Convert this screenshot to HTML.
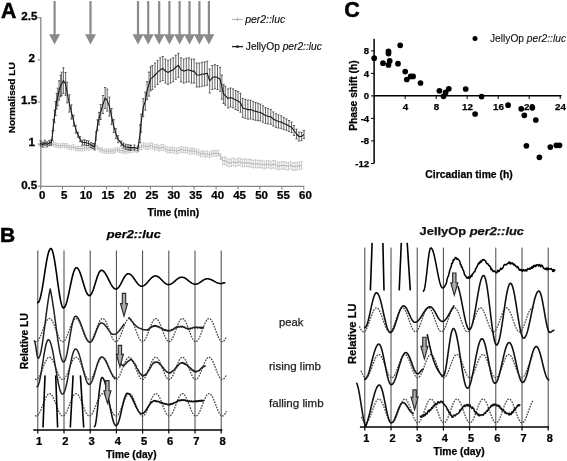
<!DOCTYPE html>
<html><head><meta charset="utf-8"><style>
html,body{margin:0;padding:0;background:#fff;width:567px;height:461px;overflow:hidden}
svg{display:block;filter:grayscale(1)}
text{font-family:"Liberation Sans",sans-serif}
</style></head><body>
<svg width="567" height="461" viewBox="0 0 567 461">
<rect width="567" height="461" fill="#fff"/>
<text x="0.9" y="17.8" font-size="21.2" font-weight="bold" font-style="normal" text-anchor="start" fill="#000" stroke="#000" stroke-width="0.5" >A</text>
<rect x="53.5" y="1.1" width="2.2" height="33.7" fill="#8a8a8a"/>
<path d="M49.1 34.3 L60.1 34.3 L54.6 44.5 Z" fill="#8a8a8a"/>
<rect x="89.4" y="1.1" width="2.2" height="33.7" fill="#8a8a8a"/>
<path d="M85 34.3 L96 34.3 L90.5 44.5 Z" fill="#8a8a8a"/>
<rect x="136.9" y="1.1" width="2.2" height="33.7" fill="#8a8a8a"/>
<path d="M132.5 34.3 L143.5 34.3 L138 44.5 Z" fill="#8a8a8a"/>
<rect x="147.1" y="1.1" width="2.2" height="33.7" fill="#8a8a8a"/>
<path d="M142.7 34.3 L153.7 34.3 L148.2 44.5 Z" fill="#8a8a8a"/>
<rect x="158.1" y="1.1" width="2.2" height="33.7" fill="#8a8a8a"/>
<path d="M153.7 34.3 L164.7 34.3 L159.2 44.5 Z" fill="#8a8a8a"/>
<rect x="168.3" y="1.1" width="2.2" height="33.7" fill="#8a8a8a"/>
<path d="M163.9 34.3 L174.9 34.3 L169.4 44.5 Z" fill="#8a8a8a"/>
<rect x="178.5" y="1.1" width="2.2" height="33.7" fill="#8a8a8a"/>
<path d="M174.1 34.3 L185.1 34.3 L179.6 44.5 Z" fill="#8a8a8a"/>
<rect x="188.4" y="1.1" width="2.2" height="33.7" fill="#8a8a8a"/>
<path d="M184 34.3 L195 34.3 L189.5 44.5 Z" fill="#8a8a8a"/>
<rect x="198.3" y="1.1" width="2.2" height="33.7" fill="#8a8a8a"/>
<path d="M193.9 34.3 L204.9 34.3 L199.4 44.5 Z" fill="#8a8a8a"/>
<rect x="207.8" y="1.1" width="2.2" height="33.7" fill="#8a8a8a"/>
<path d="M203.4 34.3 L214.4 34.3 L208.9 44.5 Z" fill="#8a8a8a"/>
<path d="M40.8 17 V186.4 H304.2" fill="none" stroke="#888" stroke-width="1.3"/>
<path d="M37.8 17.8 H40.6" stroke="#777" stroke-width="1"/>
<text transform="translate(29.4 20.1) scale(1.16 1)" font-size="10" font-weight="bold" font-style="normal" text-anchor="middle" fill="#000" stroke="#000" stroke-width="0.25" >2.5</text>
<path d="M37.8 59.9 H40.6" stroke="#777" stroke-width="1"/>
<text transform="translate(31.6 62.2) scale(1.16 1)" font-size="10" font-weight="bold" font-style="normal" text-anchor="middle" fill="#000" stroke="#000" stroke-width="0.25" >2</text>
<path d="M37.8 102 H40.6" stroke="#777" stroke-width="1"/>
<text transform="translate(29.1 104.3) scale(1.16 1)" font-size="10" font-weight="bold" font-style="normal" text-anchor="middle" fill="#000" stroke="#000" stroke-width="0.25" >1.5</text>
<path d="M37.8 144.1 H40.6" stroke="#777" stroke-width="1"/>
<text transform="translate(31.8 146.4) scale(1.16 1)" font-size="10" font-weight="bold" font-style="normal" text-anchor="middle" fill="#000" stroke="#000" stroke-width="0.25" >1</text>
<path d="M37.8 186.2 H40.6" stroke="#777" stroke-width="1"/>
<text transform="translate(29.2 188.5) scale(1.16 1)" font-size="10" font-weight="bold" font-style="normal" text-anchor="middle" fill="#000" stroke="#000" stroke-width="0.25" >0.5</text>
<path d="M40.6 186.3 V189.5" stroke="#777" stroke-width="1"/>
<text transform="translate(42.2 198.6) scale(1.15 1)" font-size="10" font-weight="bold" font-style="normal" text-anchor="middle" fill="#000" stroke="#000" stroke-width="0.25" >0</text>
<path d="M62.5 186.3 V189.5" stroke="#777" stroke-width="1"/>
<text transform="translate(64.1 198.6) scale(1.15 1)" font-size="10" font-weight="bold" font-style="normal" text-anchor="middle" fill="#000" stroke="#000" stroke-width="0.25" >5</text>
<path d="M84.5 186.3 V189.5" stroke="#777" stroke-width="1"/>
<text transform="translate(86.1 198.6) scale(1.15 1)" font-size="10" font-weight="bold" font-style="normal" text-anchor="middle" fill="#000" stroke="#000" stroke-width="0.25" >10</text>
<path d="M106.4 186.3 V189.5" stroke="#777" stroke-width="1"/>
<text transform="translate(108 198.6) scale(1.15 1)" font-size="10" font-weight="bold" font-style="normal" text-anchor="middle" fill="#000" stroke="#000" stroke-width="0.25" >15</text>
<path d="M128.3 186.3 V189.5" stroke="#777" stroke-width="1"/>
<text transform="translate(129.9 198.6) scale(1.15 1)" font-size="10" font-weight="bold" font-style="normal" text-anchor="middle" fill="#000" stroke="#000" stroke-width="0.25" >20</text>
<path d="M150.3 186.3 V189.5" stroke="#777" stroke-width="1"/>
<text transform="translate(151.9 198.6) scale(1.15 1)" font-size="10" font-weight="bold" font-style="normal" text-anchor="middle" fill="#000" stroke="#000" stroke-width="0.25" >25</text>
<path d="M172.2 186.3 V189.5" stroke="#777" stroke-width="1"/>
<text transform="translate(173.8 198.6) scale(1.15 1)" font-size="10" font-weight="bold" font-style="normal" text-anchor="middle" fill="#000" stroke="#000" stroke-width="0.25" >30</text>
<path d="M194.1 186.3 V189.5" stroke="#777" stroke-width="1"/>
<text transform="translate(195.7 198.6) scale(1.15 1)" font-size="10" font-weight="bold" font-style="normal" text-anchor="middle" fill="#000" stroke="#000" stroke-width="0.25" >35</text>
<path d="M216.1 186.3 V189.5" stroke="#777" stroke-width="1"/>
<text transform="translate(217.7 198.6) scale(1.15 1)" font-size="10" font-weight="bold" font-style="normal" text-anchor="middle" fill="#000" stroke="#000" stroke-width="0.25" >40</text>
<path d="M238 186.3 V189.5" stroke="#777" stroke-width="1"/>
<text transform="translate(239.6 198.6) scale(1.15 1)" font-size="10" font-weight="bold" font-style="normal" text-anchor="middle" fill="#000" stroke="#000" stroke-width="0.25" >45</text>
<path d="M259.9 186.3 V189.5" stroke="#777" stroke-width="1"/>
<text transform="translate(261.6 198.6) scale(1.15 1)" font-size="10" font-weight="bold" font-style="normal" text-anchor="middle" fill="#000" stroke="#000" stroke-width="0.25" >50</text>
<path d="M281.9 186.3 V189.5" stroke="#777" stroke-width="1"/>
<text transform="translate(283.5 198.6) scale(1.15 1)" font-size="10" font-weight="bold" font-style="normal" text-anchor="middle" fill="#000" stroke="#000" stroke-width="0.25" >55</text>
<path d="M303.8 186.3 V189.5" stroke="#777" stroke-width="1"/>
<text transform="translate(305.4 198.6) scale(1.15 1)" font-size="10" font-weight="bold" font-style="normal" text-anchor="middle" fill="#000" stroke="#000" stroke-width="0.25" >60</text>
<text x="147.6" y="216.3" font-size="10.3" font-weight="bold" font-style="normal" text-anchor="start" fill="#000" stroke="#000" stroke-width="0.25" textLength="51.5" lengthAdjust="spacingAndGlyphs" >Time (min)</text>
<text x="15.4" y="97.8" font-size="9.5" font-weight="bold" font-style="normal" text-anchor="middle" fill="#000" stroke="#000" stroke-width="0.25" textLength="71" lengthAdjust="spacingAndGlyphs" transform="rotate(-90 15.4 97.8)" >Normalised LU</text>
<path d="M232 19.4 H243" stroke="#aaa" stroke-width="1"/><path d="M237.5 17.5 V21.3" stroke="#aaa" stroke-width="0.8"/>
<text x="245.2" y="22.9" font-size="10.3" font-weight="normal" font-style="italic" text-anchor="start" fill="#111" stroke="#111" stroke-width="0.15" textLength="40" lengthAdjust="spacingAndGlyphs" >per2::luc</text>
<path d="M232 46.6 H243" stroke="#222" stroke-width="1.3"/><rect x="236.3" y="45.4" width="2.4" height="2.4" fill="#222"/>
<text x="245.8" y="49.8" font-size="10.3" font-weight="normal" font-style="normal" text-anchor="start" fill="#111" stroke="#111" stroke-width="0.15" textLength="76" lengthAdjust="spacingAndGlyphs" >JellyOp <tspan font-style="italic">per2::luc</tspan></text>
<path d="M40.6 141.2V145.6M39.6 141.2h2M39.6 145.6h2M42.8 141.9V146.3M41.8 141.9h2M41.8 146.3h2M45 143V147.4M44 143h2M44 147.4h2M47.2 141.8V146.2M46.2 141.8h2M46.2 146.2h2M49.4 141.4V145.8M48.4 141.4h2M48.4 145.8h2M51.6 141.5V145.9M50.6 141.5h2M50.6 145.9h2M53.8 141.8V146.2M52.8 141.8h2M52.8 146.2h2M56 142.9V147.3M55 142.9h2M55 147.3h2M58.1 143.3V147.7M57.1 143.3h2M57.1 147.7h2M60.3 143.9V148.3M59.3 143.9h2M59.3 148.3h2M62.5 143V147.4M61.5 143h2M61.5 147.4h2M64.7 143.6V148M63.7 143.6h2M63.7 148h2M66.9 143.6V148M65.9 143.6h2M65.9 148h2M69.1 145.1V149.5M68.1 145.1h2M68.1 149.5h2M71.3 145.4V149.8M70.3 145.4h2M70.3 149.8h2M73.5 144.6V149M72.5 144.6h2M72.5 149h2M75.7 146.2V150.6M74.7 146.2h2M74.7 150.6h2M77.9 146.4V150.8M76.9 146.4h2M76.9 150.8h2M80.1 146.4V150.8M79.1 146.4h2M79.1 150.8h2M82.3 146.5V150.9M81.3 146.5h2M81.3 150.9h2M84.5 145.9V150.3M83.5 145.9h2M83.5 150.3h2M86.7 145.6V150M85.7 145.6h2M85.7 150h2M88.9 146V150.4M87.9 146h2M87.9 150.4h2M91.1 144.9V149.3M90.1 144.9h2M90.1 149.3h2M93.2 144.6V149M92.2 144.6h2M92.2 149h2M95.4 144.2V148.6M94.4 144.2h2M94.4 148.6h2M97.6 145.5V149.9M96.6 145.5h2M96.6 149.9h2M99.8 147.4V151.8M98.8 147.4h2M98.8 151.8h2M102 147.8V152.2M101 147.8h2M101 152.2h2M104.2 148.9V153.3M103.2 148.9h2M103.2 153.3h2M106.4 148.7V153.1M105.4 148.7h2M105.4 153.1h2M108.6 149V153.4M107.6 149h2M107.6 153.4h2M110.8 148.9V153.3M109.8 148.9h2M109.8 153.3h2M113 148.9V153.3M112 148.9h2M112 153.3h2M115.2 148.2V152.6M114.2 148.2h2M114.2 152.6h2M117.4 147.4V151.8M116.4 147.4h2M116.4 151.8h2M119.6 148V152.4M118.6 148h2M118.6 152.4h2M121.8 148.5V152.9M120.8 148.5h2M120.8 152.9h2M124 148.8V153.2M123 148.8h2M123 153.2h2M126.1 148.9V153.3M125.1 148.9h2M125.1 153.3h2M128.3 148.6V153M127.3 148.6h2M127.3 153h2M130.5 148.2V152.6M129.5 148.2h2M129.5 152.6h2M132.7 148V152.4M131.7 148h2M131.7 152.4h2M134.9 147.5V151.9M133.9 147.5h2M133.9 151.9h2M137.1 148.3V152.7M136.1 148.3h2M136.1 152.7h2M139.3 145.4V149.8M138.3 145.4h2M138.3 149.8h2M141.5 144V149.6M140.5 144h2M140.5 149.6h2M143.7 142.5V148.1M142.7 142.5h2M142.7 148.1h2M145.9 143.7V149.3M144.9 143.7h2M144.9 149.3h2M148.1 143.8V149.4M147.1 143.8h2M147.1 149.4h2M150.3 142.7V148.3M149.3 142.7h2M149.3 148.3h2M152.5 143.3V148.9M151.5 143.3h2M151.5 148.9h2M154.7 144.7V150.3M153.7 144.7h2M153.7 150.3h2M156.9 144.3V149.9M155.9 144.3h2M155.9 149.9h2M159 145.5V151.1M158 145.5h2M158 151.1h2M161.2 144.8V150.4M160.2 144.8h2M160.2 150.4h2M163.4 144.5V150.1M162.4 144.5h2M162.4 150.1h2M165.6 146.1V151.7M164.6 146.1h2M164.6 151.7h2M167.8 147.2V152.8M166.8 147.2h2M166.8 152.8h2M170 147.3V152.9M169 147.3h2M169 152.9h2M172.2 147.1V152.7M171.2 147.1h2M171.2 152.7h2M174.4 147.6V153.2M173.4 147.6h2M173.4 153.2h2M176.6 148.3V153.9M175.6 148.3h2M175.6 153.9h2M178.8 147.6V153.2M177.8 147.6h2M177.8 153.2h2M181 146.6V152.2M180 146.6h2M180 152.2h2M183.2 147.2V152.8M182.2 147.2h2M182.2 152.8h2M185.4 147.3V152.9M184.4 147.3h2M184.4 152.9h2M187.6 147.4V153M186.6 147.4h2M186.6 153h2M189.8 148.7V154.3M188.8 148.7h2M188.8 154.3h2M192 147.9V153.5M191 147.9h2M191 153.5h2M194.1 148.7V154.3M193.1 148.7h2M193.1 154.3h2M196.3 149.1V154.7M195.3 149.1h2M195.3 154.7h2M198.5 149.7V155.3M197.5 149.7h2M197.5 155.3h2M200.7 151.2V156.8M199.7 151.2h2M199.7 156.8h2M202.9 150.5V156.1M201.9 150.5h2M201.9 156.1h2M205.1 151.6V157.2M204.1 151.6h2M204.1 157.2h2M207.3 151.1V156.7M206.3 151.1h2M206.3 156.7h2M209.5 151.9V157.5M208.5 151.9h2M208.5 157.5h2M211.7 150.9V156.5M210.7 150.9h2M210.7 156.5h2M213.9 150.4V156M212.9 150.4h2M212.9 156h2M216.1 150.8V156.4M215.1 150.8h2M215.1 156.4h2M218.3 150.3V155.9M217.3 150.3h2M217.3 155.9h2M220.5 153.8V159.4M219.5 153.8h2M219.5 159.4h2M222.7 156.9V164.5M221.7 156.9h2M221.7 164.5h2M224.9 156.9V164.5M223.9 156.9h2M223.9 164.5h2M227 158.2V165.8M226 158.2h2M226 165.8h2M229.2 159.1V166.7M228.2 159.1h2M228.2 166.7h2M231.4 158.9V166.5M230.4 158.9h2M230.4 166.5h2M233.6 158V165.6M232.6 158h2M232.6 165.6h2M235.8 159.3V166.9M234.8 159.3h2M234.8 166.9h2M238 158V165.6M237 158h2M237 165.6h2M240.2 158.2V165.8M239.2 158.2h2M239.2 165.8h2M242.4 159.3V166.9M241.4 159.3h2M241.4 166.9h2M244.6 158.9V166.5M243.6 158.9h2M243.6 166.5h2M246.8 159.2V166.8M245.8 159.2h2M245.8 166.8h2M249 159.2V166.8M248 159.2h2M248 166.8h2M251.2 159.6V167.2M250.2 159.6h2M250.2 167.2h2M253.4 160.4V168M252.4 160.4h2M252.4 168h2M255.6 159.8V167.4M254.6 159.8h2M254.6 167.4h2M257.8 160.4V168M256.8 160.4h2M256.8 168h2M259.9 160.1V167.7M258.9 160.1h2M258.9 167.7h2M262.1 160.4V168M261.1 160.4h2M261.1 168h2M264.3 161.2V168.8M263.3 161.2h2M263.3 168.8h2M266.5 160.4V168M265.5 160.4h2M265.5 168h2M268.7 160.4V168M267.7 160.4h2M267.7 168h2M270.9 161.3V168.9M269.9 161.3h2M269.9 168.9h2M273.1 160.5V168.1M272.1 160.5h2M272.1 168.1h2M275.3 160.7V168.3M274.3 160.7h2M274.3 168.3h2M277.5 162.1V169.7M276.5 162.1h2M276.5 169.7h2M279.7 162.1V169.7M278.7 162.1h2M278.7 169.7h2M281.9 161.5V169.1M280.9 161.5h2M280.9 169.1h2M284.1 161.6V169.2M283.1 161.6h2M283.1 169.2h2M286.3 162.2V169.8M285.3 162.2h2M285.3 169.8h2M288.5 162.4V170M287.5 162.4h2M287.5 170h2M290.7 161.4V169M289.7 161.4h2M289.7 169h2M292.9 162.7V170.3M291.9 162.7h2M291.9 170.3h2M295 162.7V170.3M294 162.7h2M294 170.3h2M297.2 162.3V169.9M296.2 162.3h2M296.2 169.9h2M299.4 162V169.6M298.4 162h2M298.4 169.6h2M301.6 161.5V169.1M300.6 161.5h2M300.6 169.1h2" stroke="#a8a8a8" stroke-width="0.6" fill="none"/>
<path d="M40.6 143.4 L42.8 144.1 L45 145.2 L47.2 144 L49.4 143.6 L51.6 143.7 L53.8 144 L56 145.1 L58.1 145.5 L60.3 146.1 L62.5 145.2 L64.7 145.8 L66.9 145.8 L69.1 147.3 L71.3 147.6 L73.5 146.8 L75.7 148.4 L77.9 148.6 L80.1 148.6 L82.3 148.7 L84.5 148.1 L86.7 147.8 L88.9 148.2 L91.1 147.1 L93.2 146.8 L95.4 146.4 L97.6 147.7 L99.8 149.6 L102 150 L104.2 151.1 L106.4 150.9 L108.6 151.2 L110.8 151.1 L113 151.1 L115.2 150.4 L117.4 149.6 L119.6 150.2 L121.8 150.7 L124 151 L126.1 151.1 L128.3 150.8 L130.5 150.4 L132.7 150.2 L134.9 149.7 L137.1 150.5 L139.3 147.6 L141.5 146.8 L143.7 145.3 L145.9 146.5 L148.1 146.6 L150.3 145.5 L152.5 146.1 L154.7 147.5 L156.9 147.1 L159 148.3 L161.2 147.6 L163.4 147.3 L165.6 148.9 L167.8 150 L170 150.1 L172.2 149.9 L174.4 150.4 L176.6 151.1 L178.8 150.4 L181 149.4 L183.2 150 L185.4 150.1 L187.6 150.2 L189.8 151.5 L192 150.7 L194.1 151.5 L196.3 151.9 L198.5 152.5 L200.7 154 L202.9 153.3 L205.1 154.4 L207.3 153.9 L209.5 154.7 L211.7 153.7 L213.9 153.2 L216.1 153.6 L218.3 153.1 L220.5 156.6 L222.7 160.7 L224.9 160.7 L227 162 L229.2 162.9 L231.4 162.7 L233.6 161.8 L235.8 163.1 L238 161.8 L240.2 162 L242.4 163.1 L244.6 162.7 L246.8 163 L249 163 L251.2 163.4 L253.4 164.2 L255.6 163.6 L257.8 164.2 L259.9 163.9 L262.1 164.2 L264.3 165 L266.5 164.2 L268.7 164.2 L270.9 165.1 L273.1 164.3 L275.3 164.5 L277.5 165.9 L279.7 165.9 L281.9 165.3 L284.1 165.4 L286.3 166 L288.5 166.2 L290.7 165.2 L292.9 166.5 L295 166.5 L297.2 166.1 L299.4 165.8 L301.6 165.3" fill="none" stroke="#ababab" stroke-width="0.9" stroke-linejoin="round" />
<path d="M40.6 140.8V145.8M39.5 140.8h2.2M39.5 145.8h2.2M42.8 142.3V147.3M41.7 142.3h2.2M41.7 147.3h2.2M44.9 140.2V145.2M43.8 140.2h2.2M43.8 145.2h2.2M47.1 141.9V146.9M46 141.9h2.2M46 146.9h2.2M49.3 140.4V145.4M48.2 140.4h2.2M48.2 145.4h2.2M51.3 139.9V144.9M50.2 139.9h2.2M50.2 144.9h2.2M52.4 131.2V140.6M51.3 131.2h2.2M51.3 140.6h2.2M53.4 119.7V130.5M52.3 119.7h2.2M52.3 130.5h2.2M54.5 110.2V122.7M53.4 110.2h2.2M53.4 122.7h2.2M55.6 101.4V115.6M54.5 101.4h2.2M54.5 115.6h2.2M56.7 93.3V109.1M55.6 93.3h2.2M55.6 109.1h2.2M57.8 88.2V105.6M56.7 88.2h2.2M56.7 105.6h2.2M59.1 80.7V100.1M58 80.7h2.2M58 100.1h2.2M60.6 75.2V96.8M59.5 75.2h2.2M59.5 96.8h2.2M61.7 72.2V95.6M60.6 72.2h2.2M60.6 95.6h2.2M63.4 67.7V93.5M62.3 67.7h2.2M62.3 93.5h2.2M65.6 72.5V95.3M64.5 72.5h2.2M64.5 95.3h2.2M67.1 82.2V102.8M66 82.2h2.2M66 102.8h2.2M69.3 94.8V112.1M68.2 94.8h2.2M68.2 112.1h2.2M71.4 104.9V119.1M70.3 104.9h2.2M70.3 119.1h2.2M73.6 115.3V126.1M72.5 115.3h2.2M72.5 126.1h2.2M75.8 125.6V133.2M74.7 125.6h2.2M74.7 133.2h2.2M78 132.3V137.3M76.9 132.3h2.2M76.9 137.3h2.2M80.1 136.7V141.7M79 136.7h2.2M79 141.7h2.2M82.3 140.3V145.3M81.2 140.3h2.2M81.2 145.3h2.2M84.5 139.8V144.8M83.4 139.8h2.2M83.4 144.8h2.2M86.5 140.5V145.5M85.4 140.5h2.2M85.4 145.5h2.2M88.5 140.8V145.8M87.4 140.8h2.2M87.4 145.8h2.2M91 142.5V147.5M89.9 142.5h2.2M89.9 147.5h2.2M93 143.5V148.5M91.9 143.5h2.2M91.9 148.5h2.2M94.7 143.4V150M93.6 143.4h2.2M93.6 150h2.2M96 131.7V140.1M94.9 131.7h2.2M94.9 140.1h2.2M97.5 119.8V130.4M96.4 119.8h2.2M96.4 130.4h2.2M99 112.3V124.9M97.9 112.3h2.2M97.9 124.9h2.2M100.7 104.5V119.5M99.6 104.5h2.2M99.6 119.5h2.2M102.9 95.5V113.5M101.8 95.5h2.2M101.8 113.5h2.2M105.1 87.5V108.5M104 87.5h2.2M104 108.5h2.2M107.2 89.1V111.1M106.1 89.1h2.2M106.1 111.1h2.2M109.4 97.1V116.1M108.3 97.1h2.2M108.3 116.1h2.2M111.6 108.4V124.4M110.5 108.4h2.2M110.5 124.4h2.2M113.7 119.6V132.6M112.6 119.6h2.2M112.6 132.6h2.2M115.9 128.7V138.7M114.8 128.7h2.2M114.8 138.7h2.2M118.1 135.7V142.7M117 135.7h2.2M117 142.7h2.2M121.3 141V146M120.2 141h2.2M120.2 146h2.2M123.5 143V148M122.4 143h2.2M122.4 148h2.2M125.7 144.2V149.2M124.6 144.2h2.2M124.6 149.2h2.2M128 144.7V149.7M126.9 144.7h2.2M126.9 149.7h2.2M130 145.3V150.3M128.9 145.3h2.2M128.9 150.3h2.2M131 145.1V150.1M129.9 145.1h2.2M129.9 150.1h2.2M134.4 145.1V150.1M133.3 145.1h2.2M133.3 150.1h2.2M137.9 146V151M136.8 146h2.2M136.8 151h2.2M140.1 124.7V142.7M139 124.7h2.2M139 142.7h2.2M141.1 114.3V132.3M140 114.3h2.2M140 132.3h2.2M143.2 98.6V116.6M142.1 98.6h2.2M142.1 116.6h2.2M145.3 92.1V110.1M144.2 92.1h2.2M144.2 110.1h2.2M147.1 81.7V99.7M146 81.7h2.2M146 99.7h2.2M149 72.1V96.1M147.9 72.1h2.2M147.9 96.1h2.2M150.5 66.9V90.9M149.4 66.9h2.2M149.4 90.9h2.2M152.3 65.6V89.6M151.2 65.6h2.2M151.2 89.6h2.2M155 63V87M153.9 63h2.2M153.9 87h2.2M157.6 60.4V84.4M156.5 60.4h2.2M156.5 84.4h2.2M160.2 57.8V81.8M159.1 57.8h2.2M159.1 81.8h2.2M162.8 56.5V80.5M161.7 56.5h2.2M161.7 80.5h2.2M165.4 59.1V83.1M164.3 59.1h2.2M164.3 83.1h2.2M168 60.4V84.4M166.9 60.4h2.2M166.9 84.4h2.2M170.6 59.1V83.1M169.5 59.1h2.2M169.5 83.1h2.2M173.2 57.8V81.8M172.1 57.8h2.2M172.1 81.8h2.2M175.8 55.2V79.2M174.7 55.2h2.2M174.7 79.2h2.2M178.4 53.3V77.3M177.3 53.3h2.2M177.3 77.3h2.2M181 57.8V81.8M179.9 57.8h2.2M179.9 81.8h2.2M183.7 59.1V83.1M182.6 59.1h2.2M182.6 83.1h2.2M186.3 58.3V82.3M185.2 58.3h2.2M185.2 82.3h2.2M188.9 57.8V81.8M187.8 57.8h2.2M187.8 81.8h2.2M191.5 59.1V83.1M190.4 59.1h2.2M190.4 83.1h2.2M194.1 59.1V83.1M193 59.1h2.2M193 83.1h2.2M196.7 63V87M195.6 63h2.2M195.6 87h2.2M199.3 63V87M198.2 63h2.2M198.2 87h2.2M202 62.3V86.3M200.9 62.3h2.2M200.9 86.3h2.2M204.6 61.9V85.9M203.5 61.9h2.2M203.5 85.9h2.2M207.2 61.2V85.2M206.1 61.2h2.2M206.1 85.2h2.2M209.7 69V93M208.6 69h2.2M208.6 93h2.2M212.3 65.5V89.5M211.2 65.5h2.2M211.2 89.5h2.2M214.9 64.7V88.7M213.8 64.7h2.2M213.8 88.7h2.2M217.5 65.5V89.5M216.4 65.5h2.2M216.4 89.5h2.2M220.1 67.3V91.3M219 67.3h2.2M219 91.3h2.2M221.9 75.1V99.1M220.8 75.1h2.2M220.8 99.1h2.2M223.6 84.5V103.5M222.5 84.5h2.2M222.5 103.5h2.2M225.3 86.2V105.2M224.2 86.2h2.2M224.2 105.2h2.2M228 88.9V107.9M226.9 88.9h2.2M226.9 107.9h2.2M230.5 88V107M229.4 88h2.2M229.4 107h2.2M233.1 88.9V107.9M232 88.9h2.2M232 107.9h2.2M235.7 90.6V109.6M234.6 90.6h2.2M234.6 109.6h2.2M238 91.5V110.5M236.9 91.5h2.2M236.9 110.5h2.2M240.5 93.2V112.2M239.4 93.2h2.2M239.4 112.2h2.2M242.7 98.4V117.4M241.6 98.4h2.2M241.6 117.4h2.2M245.3 99.3V118.3M244.2 99.3h2.2M244.2 118.3h2.2M247.9 100.1V119.1M246.8 100.1h2.2M246.8 119.1h2.2M250.5 100.2V119M249.4 100.2h2.2M249.4 119h2.2M253.1 101.3V119.7M252 101.3h2.2M252 119.7h2.2M255.6 102.5V120.3M254.5 102.5h2.2M254.5 120.3h2.2M258 103.3V120.7M256.9 103.3h2.2M256.9 120.7h2.2M260.4 104.1V120.9M259.3 104.1h2.2M259.3 120.9h2.2M263 105.8V122.2M261.9 105.8h2.2M261.9 122.2h2.2M265.5 107.6V123.4M264.4 107.6h2.2M264.4 123.4h2.2M268 108.5V123.9M266.9 108.5h2.2M266.9 123.9h2.2M270.8 109.5V124.3M269.7 109.5h2.2M269.7 124.3h2.2M273.3 111.9V126.1M272.2 111.9h2.2M272.2 126.1h2.2M276 113.6V127.4M274.9 113.6h2.2M274.9 127.4h2.2M278.5 114.9V128.1M277.4 114.9h2.2M277.4 128.1h2.2M281.2 115.8V128.4M280.1 115.8h2.2M280.1 128.4h2.2M283.8 117.4V129.6M282.7 117.4h2.2M282.7 129.6h2.2M286.4 118.8V130.4M285.3 118.8h2.2M285.3 130.4h2.2M289 120.5V131.5M287.9 120.5h2.2M287.9 131.5h2.2M291.6 122V132.6M290.5 122h2.2M290.5 132.6h2.2M294 125.5V135.5M292.9 125.5h2.2M292.9 135.5h2.2M296.5 129.2V138.8M295.4 129.2h2.2M295.4 138.8h2.2M299 132V141M297.9 132h2.2M297.9 141h2.2M301.6 132.2V140.6M300.5 132.2h2.2M300.5 140.6h2.2M304 130.5V138.5M302.9 130.5h2.2M302.9 138.5h2.2" stroke="#333" stroke-width="0.75" fill="none"/>
<path d="M40.6 143.3 L42.8 144.8 L44.9 142.7 L47.1 144.4 L49.3 142.9 L51.3 142.4 L52.4 135.9 L53.4 125.1 L54.5 116.4 L55.6 108.5 L56.7 101.2 L57.8 96.9 L59.1 90.4 L60.6 86 L61.7 83.9 L63.4 80.6 L65.6 83.9 L67.1 92.5 L69.3 103.4 L71.4 112 L73.6 120.7 L75.8 129.4 L78 134.8 L80.1 139.2 L82.3 142.8 L84.5 142.3 L86.5 143 L88.5 143.3 L91 145 L93 146 L94.7 146.7 L96 135.9 L97.5 125.1 L99 118.6 L100.7 112 L102.9 104.5 L105.1 98 L107.2 100.1 L109.4 106.6 L111.6 116.4 L113.7 126.1 L115.9 133.7 L118.1 139.2 L121.3 143.5 L123.5 145.5 L125.7 146.7 L128 147.2 L130 147.8 L131 147.6 L134.4 147.6 L137.9 148.5 L140.1 133.7 L141.1 123.3 L143.2 107.6 L145.3 101.1 L147.1 90.7 L149 84.1 L150.5 78.9 L152.3 77.6 L155 75 L157.6 72.4 L160.2 69.8 L162.8 68.5 L165.4 71.1 L168 72.4 L170.6 71.1 L173.2 69.8 L175.8 67.2 L178.4 65.3 L181 69.8 L183.7 71.1 L186.3 70.3 L188.9 69.8 L191.5 71.1 L194.1 71.1 L196.7 75 L199.3 75 L202 74.3 L204.6 73.9 L207.2 73.2 L209.7 81 L212.3 77.5 L214.9 76.7 L217.5 77.5 L220.1 79.3 L221.9 87.1 L223.6 94 L225.3 95.7 L228 98.4 L230.5 97.5 L233.1 98.4 L235.7 100.1 L238 101 L240.5 102.7 L242.7 107.9 L245.3 108.8 L247.9 109.6 L250.5 109.6 L253.1 110.5 L255.6 111.4 L258 112 L260.4 112.5 L263 114 L265.5 115.5 L268 116.2 L270.8 116.9 L273.3 119 L276 120.5 L278.5 121.5 L281.2 122.1 L283.8 123.5 L286.4 124.6 L289 126 L291.6 127.3 L294 130.5 L296.5 134 L299 136.5 L301.6 136.4 L304 134.5" fill="none" stroke="#1a1a1a" stroke-width="1.1" stroke-linejoin="round" />
<text x="344.3" y="17.3" font-size="21.5" font-weight="bold" font-style="normal" text-anchor="start" fill="#000" stroke="#000" stroke-width="0.5" >C</text>
<path d="M374.1 38.7 V163.5" stroke="#000" stroke-width="1.5"/>
<path d="M374 95.8 H561.5" stroke="#000" stroke-width="1.5"/>
<path d="M371 50.9 H374" stroke="#000" stroke-width="1"/>
<text x="369.2" y="54.1" font-size="9.6" font-weight="bold" font-style="normal" text-anchor="end" fill="#000" stroke="#000" stroke-width="0.25" >8</text>
<path d="M371 73.4 H374" stroke="#000" stroke-width="1"/>
<text x="369.2" y="76.6" font-size="9.6" font-weight="bold" font-style="normal" text-anchor="end" fill="#000" stroke="#000" stroke-width="0.25" >4</text>
<path d="M371 95.9 H374" stroke="#000" stroke-width="1"/>
<text x="369.2" y="99.1" font-size="9.6" font-weight="bold" font-style="normal" text-anchor="end" fill="#000" stroke="#000" stroke-width="0.25" >0</text>
<path d="M371 118.4 H374" stroke="#000" stroke-width="1"/>
<text x="369.2" y="121.6" font-size="9.6" font-weight="bold" font-style="normal" text-anchor="end" fill="#000" stroke="#000" stroke-width="0.25" >-4</text>
<path d="M371 140.9 H374" stroke="#000" stroke-width="1"/>
<text x="369.2" y="144.1" font-size="9.6" font-weight="bold" font-style="normal" text-anchor="end" fill="#000" stroke="#000" stroke-width="0.25" >-8</text>
<path d="M371 163.5 H374" stroke="#000" stroke-width="1"/>
<text x="369.2" y="166.7" font-size="9.6" font-weight="bold" font-style="normal" text-anchor="end" fill="#000" stroke="#000" stroke-width="0.25" >-12</text>
<path d="M405.2 95.9 V99" stroke="#000" stroke-width="1"/>
<text x="405.4" y="110.3" font-size="9.8" font-weight="bold" font-style="normal" text-anchor="middle" fill="#000" stroke="#000" stroke-width="0.25" >4</text>
<path d="M436.2 95.9 V99" stroke="#000" stroke-width="1"/>
<text x="436.4" y="110.3" font-size="9.8" font-weight="bold" font-style="normal" text-anchor="middle" fill="#000" stroke="#000" stroke-width="0.25" >8</text>
<path d="M467.2 95.9 V99" stroke="#000" stroke-width="1"/>
<text x="467.4" y="110.3" font-size="9.8" font-weight="bold" font-style="normal" text-anchor="middle" fill="#000" stroke="#000" stroke-width="0.25" >12</text>
<path d="M498.2 95.9 V99" stroke="#000" stroke-width="1"/>
<text x="498.4" y="110.3" font-size="9.8" font-weight="bold" font-style="normal" text-anchor="middle" fill="#000" stroke="#000" stroke-width="0.25" >16</text>
<path d="M529.2 95.9 V99" stroke="#000" stroke-width="1"/>
<text x="529.4" y="110.3" font-size="9.8" font-weight="bold" font-style="normal" text-anchor="middle" fill="#000" stroke="#000" stroke-width="0.25" >20</text>
<path d="M560.2 95.9 V99" stroke="#000" stroke-width="1"/>
<text x="560.4" y="110.3" font-size="9.8" font-weight="bold" font-style="normal" text-anchor="middle" fill="#000" stroke="#000" stroke-width="0.25" >24</text>
<text x="425.3" y="177.9" font-size="10.2" font-weight="bold" font-style="normal" text-anchor="start" fill="#000" stroke="#000" stroke-width="0.25" textLength="87.4" lengthAdjust="spacingAndGlyphs" >Circadian time (h)</text>
<text x="356.8" y="95.6" font-size="10" font-weight="bold" font-style="normal" text-anchor="middle" fill="#000" stroke="#000" stroke-width="0.25" textLength="70.5" lengthAdjust="spacingAndGlyphs" transform="rotate(-90 356.8 95.6)" >Phase shift (h)</text>
<circle cx="475" cy="38.5" r="2.5" fill="#000"/>
<text x="490" y="42" font-size="10.6" font-weight="normal" font-style="normal" text-anchor="start" fill="#111" stroke="#111" stroke-width="0.1" textLength="76" lengthAdjust="spacingAndGlyphs" >JellyOp <tspan font-style="italic">per2::luc</tspan></text>
<circle cx="374.2" cy="58.2" r="2.85" fill="#000"/>
<circle cx="383" cy="63.2" r="2.85" fill="#000"/>
<circle cx="388.5" cy="51.3" r="2.85" fill="#000"/>
<circle cx="388.5" cy="53.6" r="2.85" fill="#000"/>
<circle cx="389.7" cy="60.9" r="2.85" fill="#000"/>
<circle cx="388.5" cy="64.9" r="2.85" fill="#000"/>
<circle cx="400.2" cy="45.3" r="2.85" fill="#000"/>
<circle cx="398" cy="63.7" r="2.85" fill="#000"/>
<circle cx="405.2" cy="71.6" r="2.85" fill="#000"/>
<circle cx="406.8" cy="79.5" r="2.85" fill="#000"/>
<circle cx="410.7" cy="76.4" r="2.85" fill="#000"/>
<circle cx="413.1" cy="76.4" r="2.85" fill="#000"/>
<circle cx="420.5" cy="83" r="2.85" fill="#000"/>
<circle cx="439.4" cy="90.8" r="2.85" fill="#000"/>
<circle cx="443.5" cy="96.3" r="2.85" fill="#000"/>
<circle cx="445.6" cy="92.4" r="2.85" fill="#000"/>
<circle cx="448.8" cy="88.8" r="2.85" fill="#000"/>
<circle cx="465.7" cy="89" r="2.85" fill="#000"/>
<circle cx="475.1" cy="114" r="2.85" fill="#000"/>
<circle cx="481.6" cy="96.6" r="2.85" fill="#000"/>
<circle cx="508.1" cy="105.2" r="2.85" fill="#000"/>
<circle cx="521.2" cy="108.8" r="2.85" fill="#000"/>
<circle cx="524.3" cy="115.3" r="2.85" fill="#000"/>
<circle cx="532.4" cy="107.8" r="2.85" fill="#000"/>
<circle cx="535.8" cy="120" r="2.85" fill="#000"/>
<circle cx="526.4" cy="145.8" r="2.85" fill="#000"/>
<circle cx="539.4" cy="157.3" r="2.85" fill="#000"/>
<circle cx="550.3" cy="147.1" r="2.85" fill="#000"/>
<circle cx="556.3" cy="145.3" r="2.85" fill="#000"/>
<circle cx="559.5" cy="145.3" r="2.85" fill="#000"/>
<defs><linearGradient id="ag" x1="0" x2="1" y1="0" y2="0"><stop offset="0" stop-color="#7a7a7a"/><stop offset="0.5" stop-color="#b4b4b4"/><stop offset="1" stop-color="#7a7a7a"/></linearGradient></defs>
<text x="-0.1" y="242.1" font-size="21" font-weight="bold" font-style="normal" text-anchor="start" fill="#000" stroke="#000" stroke-width="0.5">B</text>
<text x="106.8" y="238" font-size="11.3" font-weight="bold" font-style="italic" text-anchor="start" fill="#000" stroke="#000" stroke-width="0.25" textLength="54" lengthAdjust="spacingAndGlyphs">per2::luc</text>
<path d="M37.8 250.5V430M64 250.5V430M90.2 250.5V430M116.4 250.5V430M142.6 250.5V430M168.8 250.5V430M195 250.5V430M221.2 250.5V430" stroke="#434343" stroke-width="1"/>
<path d="M33.2 430 H222.3" stroke="#000" stroke-width="1.4"/>
<path d="M37.8 430V433.6M64 430V433.6M90.2 430V433.6M116.4 430V433.6M142.6 430V433.6M168.8 430V433.6M195 430V433.6M221.2 430V433.6" stroke="#000" stroke-width="1.2"/>
<text transform="translate(39.2 444.8) scale(1.1 1)" font-size="10.2" font-weight="bold" font-style="normal" text-anchor="middle" fill="#000" stroke="#000" stroke-width="0.25">1</text>
<text transform="translate(65.4 444.8) scale(1.1 1)" font-size="10.2" font-weight="bold" font-style="normal" text-anchor="middle" fill="#000" stroke="#000" stroke-width="0.25">2</text>
<text transform="translate(91.6 444.8) scale(1.1 1)" font-size="10.2" font-weight="bold" font-style="normal" text-anchor="middle" fill="#000" stroke="#000" stroke-width="0.25">3</text>
<text transform="translate(117.8 444.8) scale(1.1 1)" font-size="10.2" font-weight="bold" font-style="normal" text-anchor="middle" fill="#000" stroke="#000" stroke-width="0.25">4</text>
<text transform="translate(144 444.8) scale(1.1 1)" font-size="10.2" font-weight="bold" font-style="normal" text-anchor="middle" fill="#000" stroke="#000" stroke-width="0.25">5</text>
<text transform="translate(170.2 444.8) scale(1.1 1)" font-size="10.2" font-weight="bold" font-style="normal" text-anchor="middle" fill="#000" stroke="#000" stroke-width="0.25">6</text>
<text transform="translate(196.4 444.8) scale(1.1 1)" font-size="10.2" font-weight="bold" font-style="normal" text-anchor="middle" fill="#000" stroke="#000" stroke-width="0.25">7</text>
<text transform="translate(222.6 444.8) scale(1.1 1)" font-size="10.2" font-weight="bold" font-style="normal" text-anchor="middle" fill="#000" stroke="#000" stroke-width="0.25">8</text>
<text x="106.1" y="457.6" font-size="10" font-weight="bold" font-style="normal" text-anchor="start" fill="#000" stroke="#000" stroke-width="0.25" textLength="50.5" lengthAdjust="spacingAndGlyphs">Time (day)</text>
<text x="27.9" y="341.2" font-size="10" font-weight="bold" font-style="normal" text-anchor="middle" fill="#000" stroke="#000" stroke-width="0.25" textLength="56" lengthAdjust="spacingAndGlyphs" transform="rotate(-90 27.9 341.2)">Relative LU</text>
<text x="278.9" y="326" font-size="11" font-weight="normal" font-style="normal" text-anchor="start" fill="#222" stroke="#222" stroke-width="0.25" textLength="24.4" lengthAdjust="spacingAndGlyphs">peak</text>
<text x="269" y="369.7" font-size="11" font-weight="normal" font-style="normal" text-anchor="start" fill="#222" stroke="#222" stroke-width="0.25" textLength="52" lengthAdjust="spacingAndGlyphs">rising limb</text>
<text x="269" y="407.2" font-size="11" font-weight="normal" font-style="normal" text-anchor="start" fill="#222" stroke="#222" stroke-width="0.25" textLength="54.6" lengthAdjust="spacingAndGlyphs">falling limb</text>
<path d="M35 341.31 L35.5 341.58 L36 341.7 L36.5 341.65 L37 341.44 L37.5 341.07 L38 340.55 L38.5 339.89 L39 339.08 L39.5 338.16 L40 337.12 L40.5 335.98 L41 334.76 L41.5 333.48 L42 332.14 L42.5 330.78 L43 329.42 L43.5 328.06 L44 326.72 L44.5 325.44 L45 324.22 L45.5 323.08 L46 322.04 L46.5 321.12 L47 320.31 L47.5 319.65 L48 319.13 L48.5 318.76 L49 318.55 L49.5 318.5 L50 318.62 L50.5 318.89 L51 319.32 L51.5 319.9 L52 320.62 L52.5 321.47 L53 322.45 L53.5 323.53 L54 324.7 L54.5 325.95 L55 327.25 L55.5 328.6 L56 329.96 L56.5 331.33 L57 332.68 L57.5 334 L58 335.26 L58.5 336.44 L59 337.54 L59.5 338.54 L60 339.42 L60.5 340.17 L61 340.78 L61.5 341.24 L62 341.54 L62.5 341.69 L63 341.67 L63.5 341.49 L64 341.16 L64.5 340.67 L65 340.03 L65.5 339.25 L66 338.35 L66.5 337.33 L67 336.21 L67.5 335.01 L68 333.74 L68.5 332.41 L69 331.06 L69.5 329.69 L70 328.33 L70.5 326.99 L71 325.69 L71.5 324.46 L72 323.3 L72.5 322.24 L73 321.29 L73.5 320.46 L74 319.77 L74.5 319.22 L75 318.82 L75.5 318.58 L76 318.5 L76.5 318.58 L77 318.82 L77.5 319.22 L78 319.77 L78.5 320.46 L79 321.29 L79.5 322.24 L80 323.3 L80.5 324.46 L81 325.69 L81.5 326.99 L82 328.33 L82.5 329.69 L83 331.06 L83.5 332.41 L84 333.74 L84.5 335.01 L85 336.21 L85.5 337.33 L86 338.35 L86.5 339.25 L87 340.03 L87.5 340.67 L88 341.16 L88.5 341.49 L89 341.67 L89.5 341.69 L90 341.54 L90.5 341.24 L91 340.78 L91.5 340.17 L92 339.42 L92.5 338.54 L93 337.54 L93.5 336.44 L94 335.26 L94.5 334 L95 332.68 L95.5 331.33 L96 329.96 L96.5 328.6 L97 327.25 L97.5 325.95 L98 324.7 L98.5 323.53 L99 322.45 L99.5 321.47 L100 320.62 L100.5 319.9 L101 319.32 L101.5 318.89 L102 318.62 L102.5 318.5 L103 318.55 L103.5 318.76 L104 319.13 L104.5 319.65 L105 320.31 L105.5 321.12 L106 322.04 L106.5 323.08 L107 324.22 L107.5 325.44 L108 326.72 L108.5 328.06 L109 329.42 L109.5 330.78 L110 332.14 L110.5 333.48 L111 334.76 L111.5 335.98 L112 337.12 L112.5 338.16 L113 339.08 L113.5 339.89 L114 340.55 L114.5 341.07 L115 341.44 L115.5 341.65 L116 341.7 L116.5 341.58 L117 341.31 L117.5 340.88 L118 340.3 L118.5 339.58 L119 338.73 L119.5 337.75 L120 336.67 L120.5 335.5 L121 334.25 L121.5 332.95 L122 331.6 L122.5 330.24 L123 328.87 L123.5 327.52 L124 326.2 L124.5 324.94 L125 323.76 L125.5 322.66 L126 321.66 L126.5 320.78 L127 320.03 L127.5 319.42 L128 318.96 L128.5 318.66 L129 318.51 L129.5 318.53 L130 318.71 L130.5 319.04 L131 319.53 L131.5 320.17 L132 320.95 L132.5 321.85 L133 322.87 L133.5 323.99 L134 325.19 L134.5 326.46 L135 327.79 L135.5 329.14 L136 330.51 L136.5 331.87 L137 333.21 L137.5 334.51 L138 335.74 L138.5 336.9 L139 337.96 L139.5 338.91 L140 339.74 L140.5 340.43 L141 340.98 L141.5 341.38 L142 341.62 L142.5 341.7 L143 341.62 L143.5 341.38 L144 340.98 L144.5 340.43 L145 339.74 L145.5 338.91 L146 337.96 L146.5 336.9 L147 335.74 L147.5 334.51 L148 333.21 L148.5 331.87 L149 330.51 L149.5 329.14 L150 327.79 L150.5 326.46 L151 325.19 L151.5 323.99 L152 322.87 L152.5 321.85 L153 320.95 L153.5 320.17 L154 319.53 L154.5 319.04 L155 318.71 L155.5 318.53 L156 318.51 L156.5 318.66 L157 318.96 L157.5 319.42 L158 320.03 L158.5 320.78 L159 321.66 L159.5 322.66 L160 323.76 L160.5 324.94 L161 326.2 L161.5 327.52 L162 328.87 L162.5 330.24 L163 331.6 L163.5 332.95 L164 334.25 L164.5 335.5 L165 336.67 L165.5 337.75 L166 338.73 L166.5 339.58 L167 340.3 L167.5 340.88 L168 341.31 L168.5 341.58 L169 341.7 L169.5 341.65 L170 341.44 L170.5 341.07 L171 340.55 L171.5 339.89 L172 339.08 L172.5 338.16 L173 337.12 L173.5 335.98 L174 334.76 L174.5 333.48 L175 332.14 L175.5 330.78 L176 329.42 L176.5 328.06 L177 326.72 L177.5 325.44 L178 324.22 L178.5 323.08 L179 322.04 L179.5 321.12 L180 320.31 L180.5 319.65 L181 319.13 L181.5 318.76 L182 318.55 L182.5 318.5 L183 318.62 L183.5 318.89 L184 319.32 L184.5 319.9 L185 320.62 L185.5 321.47 L186 322.45 L186.5 323.53 L187 324.7 L187.5 325.95 L188 327.25 L188.5 328.6 L189 329.96 L189.5 331.33 L190 332.68 L190.5 334 L191 335.26 L191.5 336.44 L192 337.54 L192.5 338.54 L193 339.42 L193.5 340.17 L194 340.78 L194.5 341.24 L195 341.54 L195.5 341.69 L196 341.67 L196.5 341.49 L197 341.16 L197.5 340.67 L198 340.03 L198.5 339.25 L199 338.35 L199.5 337.33 L200 336.21 L200.5 335.01 L201 333.74 L201.5 332.41 L202 331.06 L202.5 329.69 L203 328.33 L203.5 326.99 L204 325.69 L204.5 324.46 L205 323.3 L205.5 322.24 L206 321.29 L206.5 320.46 L207 319.77 L207.5 319.22 L208 318.82 L208.5 318.58 L209 318.5 L209.5 318.58 L210 318.82 L210.5 319.22 L211 319.77 L211.5 320.46 L212 321.29 L212.5 322.24 L213 323.3 L213.5 324.46 L214 325.69 L214.5 326.99 L215 328.33 L215.5 329.69 L216 331.06 L216.5 332.41 L217 333.74 L217.5 335.01 L218 336.21 L218.5 337.33 L219 338.35 L219.5 339.25 L220 340.03 L220.5 340.67 L221 341.16 L221.5 341.49 L222 341.67 L222.5 341.69 L223 341.54 L223.5 341.24 L224 340.78 L224.5 340.17 L225 339.42 L225.5 338.54 L226 337.54 L226.5 336.44" fill="none" stroke="#4a4a4a" stroke-width="1.3" stroke-linejoin="round" stroke-linecap="butt" stroke-dasharray="1.7 1.1"/>
<path d="M35 379.13 L35.5 379.39 L36 379.5 L36.5 379.45 L37 379.25 L37.5 378.9 L38 378.4 L38.5 377.76 L39 376.98 L39.5 376.09 L40 375.09 L40.5 374 L41 372.83 L41.5 371.59 L42 370.31 L42.5 369.01 L43 367.69 L43.5 366.39 L44 365.11 L44.5 363.87 L45 362.7 L45.5 361.61 L46 360.61 L46.5 359.72 L47 358.94 L47.5 358.3 L48 357.8 L48.5 357.45 L49 357.25 L49.5 357.2 L50 357.31 L50.5 357.57 L51 357.99 L51.5 358.54 L52 359.24 L52.5 360.06 L53 360.99 L53.5 362.03 L54 363.16 L54.5 364.36 L55 365.61 L55.5 366.91 L56 368.22 L56.5 369.53 L57 370.83 L57.5 372.09 L58 373.31 L58.5 374.45 L59 375.51 L59.5 376.46 L60 377.31 L60.5 378.03 L61 378.61 L61.5 379.06 L62 379.35 L62.5 379.49 L63 379.47 L63.5 379.3 L64 378.98 L64.5 378.51 L65 377.89 L65.5 377.15 L66 376.28 L66.5 375.3 L67 374.23 L67.5 373.07 L68 371.85 L68.5 370.57 L69 369.27 L69.5 367.96 L70 366.64 L70.5 365.36 L71 364.11 L71.5 362.93 L72 361.82 L72.5 360.8 L73 359.88 L73.5 359.09 L74 358.42 L74.5 357.89 L75 357.51 L75.5 357.28 L76 357.2 L76.5 357.28 L77 357.51 L77.5 357.89 L78 358.42 L78.5 359.09 L79 359.88 L79.5 360.8 L80 361.82 L80.5 362.93 L81 364.11 L81.5 365.36 L82 366.64 L82.5 367.96 L83 369.27 L83.5 370.57 L84 371.85 L84.5 373.07 L85 374.23 L85.5 375.3 L86 376.28 L86.5 377.15 L87 377.89 L87.5 378.51 L88 378.98 L88.5 379.3 L89 379.47 L89.5 379.49 L90 379.35 L90.5 379.06 L91 378.61 L91.5 378.03 L92 377.31 L92.5 376.46 L93 375.51 L93.5 374.45 L94 373.31 L94.5 372.09 L95 370.83 L95.5 369.53 L96 368.22 L96.5 366.91 L97 365.61 L97.5 364.36 L98 363.16 L98.5 362.03 L99 360.99 L99.5 360.06 L100 359.24 L100.5 358.54 L101 357.99 L101.5 357.57 L102 357.31 L102.5 357.2 L103 357.25 L103.5 357.45 L104 357.8 L104.5 358.3 L105 358.94 L105.5 359.72 L106 360.61 L106.5 361.61 L107 362.7 L107.5 363.87 L108 365.11 L108.5 366.39 L109 367.69 L109.5 369.01 L110 370.31 L110.5 371.59 L111 372.83 L111.5 374 L112 375.09 L112.5 376.09 L113 376.98 L113.5 377.76 L114 378.4 L114.5 378.9 L115 379.25 L115.5 379.45 L116 379.5 L116.5 379.39 L117 379.13 L117.5 378.71 L118 378.16 L118.5 377.46 L119 376.64 L119.5 375.71 L120 374.67 L120.5 373.54 L121 372.34 L121.5 371.09 L122 369.79 L122.5 368.48 L123 367.17 L123.5 365.87 L124 364.61 L124.5 363.39 L125 362.25 L125.5 361.19 L126 360.24 L126.5 359.39 L127 358.67 L127.5 358.09 L128 357.64 L128.5 357.35 L129 357.21 L129.5 357.23 L130 357.4 L130.5 357.72 L131 358.19 L131.5 358.81 L132 359.55 L132.5 360.42 L133 361.4 L133.5 362.47 L134 363.63 L134.5 364.85 L135 366.13 L135.5 367.43 L136 368.74 L136.5 370.06 L137 371.34 L137.5 372.59 L138 373.77 L138.5 374.88 L139 375.9 L139.5 376.82 L140 377.61 L140.5 378.28 L141 378.81 L141.5 379.19 L142 379.42 L142.5 379.5 L143 379.42 L143.5 379.19 L144 378.81 L144.5 378.28 L145 377.61 L145.5 376.82 L146 375.9 L146.5 374.88 L147 373.77 L147.5 372.59 L148 371.34 L148.5 370.06 L149 368.74 L149.5 367.43 L150 366.13 L150.5 364.85 L151 363.63 L151.5 362.47 L152 361.4 L152.5 360.42 L153 359.55 L153.5 358.81 L154 358.19 L154.5 357.72 L155 357.4 L155.5 357.23 L156 357.21 L156.5 357.35 L157 357.64 L157.5 358.09 L158 358.67 L158.5 359.39 L159 360.24 L159.5 361.19 L160 362.25 L160.5 363.39 L161 364.61 L161.5 365.87 L162 367.17 L162.5 368.48 L163 369.79 L163.5 371.09 L164 372.34 L164.5 373.54 L165 374.67 L165.5 375.71 L166 376.64 L166.5 377.46 L167 378.16 L167.5 378.71 L168 379.13 L168.5 379.39 L169 379.5 L169.5 379.45 L170 379.25 L170.5 378.9 L171 378.4 L171.5 377.76 L172 376.98 L172.5 376.09 L173 375.09 L173.5 374 L174 372.83 L174.5 371.59 L175 370.31 L175.5 369.01 L176 367.69 L176.5 366.39 L177 365.11 L177.5 363.87 L178 362.7 L178.5 361.61 L179 360.61 L179.5 359.72 L180 358.94 L180.5 358.3 L181 357.8 L181.5 357.45 L182 357.25 L182.5 357.2 L183 357.31 L183.5 357.57 L184 357.99 L184.5 358.54 L185 359.24 L185.5 360.06 L186 360.99 L186.5 362.03 L187 363.16 L187.5 364.36 L188 365.61 L188.5 366.91 L189 368.22 L189.5 369.53 L190 370.83 L190.5 372.09 L191 373.31 L191.5 374.45 L192 375.51 L192.5 376.46 L193 377.31 L193.5 378.03 L194 378.61 L194.5 379.06 L195 379.35 L195.5 379.49 L196 379.47 L196.5 379.3 L197 378.98 L197.5 378.51 L198 377.89 L198.5 377.15 L199 376.28 L199.5 375.3 L200 374.23 L200.5 373.07 L201 371.85 L201.5 370.57 L202 369.27 L202.5 367.96 L203 366.64 L203.5 365.36 L204 364.11 L204.5 362.93 L205 361.82 L205.5 360.8 L206 359.88 L206.5 359.09 L207 358.42 L207.5 357.89 L208 357.51 L208.5 357.28 L209 357.2 L209.5 357.28 L210 357.51 L210.5 357.89 L211 358.42 L211.5 359.09 L212 359.88 L212.5 360.8 L213 361.82 L213.5 362.93 L214 364.11 L214.5 365.36 L215 366.64 L215.5 367.96 L216 369.27 L216.5 370.57 L217 371.85 L217.5 373.07 L218 374.23 L218.5 375.3 L219 376.28 L219.5 377.15 L220 377.89 L220.5 378.51 L221 378.98 L221.5 379.3 L222 379.47 L222.5 379.49 L223 379.35 L223.5 379.06 L224 378.61 L224.5 378.03 L225 377.31 L225.5 376.46 L226 375.51 L226.5 374.45" fill="none" stroke="#4a4a4a" stroke-width="1.3" stroke-linejoin="round" stroke-linecap="butt" stroke-dasharray="1.7 1.1"/>
<path d="M35 415.55 L35.5 415.85 L36 415.99 L36.5 415.97 L37 415.8 L37.5 415.48 L38 415 L38.5 414.39 L39 413.64 L39.5 412.77 L40 411.78 L40.5 410.7 L41 409.54 L41.5 408.31 L42 407.03 L42.5 405.72 L43 404.4 L43.5 403.09 L44 401.79 L44.5 400.54 L45 399.35 L45.5 398.24 L46 397.21 L46.5 396.3 L47 395.5 L47.5 394.83 L48 394.3 L48.5 393.91 L49 393.68 L49.5 393.6 L50 393.68 L50.5 393.91 L51 394.3 L51.5 394.83 L52 395.5 L52.5 396.3 L53 397.21 L53.5 398.24 L54 399.35 L54.5 400.54 L55 401.79 L55.5 403.09 L56 404.4 L56.5 405.72 L57 407.03 L57.5 408.31 L58 409.54 L58.5 410.7 L59 411.78 L59.5 412.77 L60 413.64 L60.5 414.39 L61 415 L61.5 415.48 L62 415.8 L62.5 415.97 L63 415.99 L63.5 415.85 L64 415.55 L64.5 415.11 L65 414.52 L65.5 413.8 L66 412.95 L66.5 411.99 L67 410.93 L67.5 409.78 L68 408.56 L68.5 407.29 L69 405.99 L69.5 404.67 L70 403.35 L70.5 402.05 L71 400.79 L71.5 399.59 L72 398.45 L72.5 397.41 L73 396.47 L73.5 395.65 L74 394.95 L74.5 394.39 L75 393.98 L75.5 393.71 L76 393.6 L76.5 393.65 L77 393.85 L77.5 394.21 L78 394.71 L78.5 395.35 L79 396.13 L79.5 397.02 L80 398.03 L80.5 399.12 L81 400.3 L81.5 401.54 L82 402.83 L82.5 404.14 L83 405.46 L83.5 406.77 L84 408.06 L84.5 409.3 L85 410.48 L85.5 411.57 L86 412.58 L86.5 413.47 L87 414.25 L87.5 414.89 L88 415.39 L88.5 415.75 L89 415.95 L89.5 416 L90 415.89 L90.5 415.62 L91 415.21 L91.5 414.65 L92 413.95 L92.5 413.13 L93 412.19 L93.5 411.15 L94 410.01 L94.5 408.81 L95 407.55 L95.5 406.25 L96 404.93 L96.5 403.61 L97 402.31 L97.5 401.04 L98 399.82 L98.5 398.67 L99 397.61 L99.5 396.65 L100 395.8 L100.5 395.08 L101 394.49 L101.5 394.05 L102 393.75 L102.5 393.61 L103 393.63 L103.5 393.8 L104 394.12 L104.5 394.6 L105 395.21 L105.5 395.96 L106 396.83 L106.5 397.82 L107 398.9 L107.5 400.06 L108 401.29 L108.5 402.57 L109 403.88 L109.5 405.2 L110 406.51 L110.5 407.81 L111 409.06 L111.5 410.25 L112 411.36 L112.5 412.39 L113 413.3 L113.5 414.1 L114 414.77 L114.5 415.3 L115 415.69 L115.5 415.92 L116 416 L116.5 415.92 L117 415.69 L117.5 415.3 L118 414.77 L118.5 414.1 L119 413.3 L119.5 412.39 L120 411.36 L120.5 410.25 L121 409.06 L121.5 407.81 L122 406.51 L122.5 405.2 L123 403.88 L123.5 402.57 L124 401.29 L124.5 400.06 L125 398.9 L125.5 397.82 L126 396.83 L126.5 395.96 L127 395.21 L127.5 394.6 L128 394.12 L128.5 393.8 L129 393.63 L129.5 393.61 L130 393.75 L130.5 394.05 L131 394.49 L131.5 395.08 L132 395.8 L132.5 396.65 L133 397.61 L133.5 398.67 L134 399.82 L134.5 401.04 L135 402.31 L135.5 403.61 L136 404.93 L136.5 406.25 L137 407.55 L137.5 408.81 L138 410.01 L138.5 411.15 L139 412.19 L139.5 413.13 L140 413.95 L140.5 414.65 L141 415.21 L141.5 415.62 L142 415.89 L142.5 416 L143 415.95 L143.5 415.75 L144 415.39 L144.5 414.89 L145 414.25 L145.5 413.47 L146 412.58 L146.5 411.57 L147 410.48 L147.5 409.3 L148 408.06 L148.5 406.77 L149 405.46 L149.5 404.14 L150 402.83 L150.5 401.54 L151 400.3 L151.5 399.12 L152 398.03 L152.5 397.02 L153 396.13 L153.5 395.35 L154 394.71 L154.5 394.21 L155 393.85 L155.5 393.65 L156 393.6 L156.5 393.71 L157 393.98 L157.5 394.39 L158 394.95 L158.5 395.65 L159 396.47 L159.5 397.41 L160 398.45 L160.5 399.59 L161 400.79 L161.5 402.05 L162 403.35 L162.5 404.67 L163 405.99 L163.5 407.29 L164 408.56 L164.5 409.78 L165 410.93 L165.5 411.99 L166 412.95 L166.5 413.8 L167 414.52 L167.5 415.11 L168 415.55 L168.5 415.85 L169 415.99 L169.5 415.97 L170 415.8 L170.5 415.48 L171 415 L171.5 414.39 L172 413.64 L172.5 412.77 L173 411.78 L173.5 410.7 L174 409.54 L174.5 408.31 L175 407.03 L175.5 405.72 L176 404.4 L176.5 403.09 L177 401.79 L177.5 400.54 L178 399.35 L178.5 398.24 L179 397.21 L179.5 396.3 L180 395.5 L180.5 394.83 L181 394.3 L181.5 393.91 L182 393.68 L182.5 393.6 L183 393.68 L183.5 393.91 L184 394.3 L184.5 394.83 L185 395.5 L185.5 396.3 L186 397.21 L186.5 398.24 L187 399.35 L187.5 400.54 L188 401.79 L188.5 403.09 L189 404.4 L189.5 405.72 L190 407.03 L190.5 408.31 L191 409.54 L191.5 410.7 L192 411.78 L192.5 412.77 L193 413.64 L193.5 414.39 L194 415 L194.5 415.48 L195 415.8 L195.5 415.97 L196 415.99 L196.5 415.85 L197 415.55 L197.5 415.11 L198 414.52 L198.5 413.8 L199 412.95 L199.5 411.99 L200 410.93 L200.5 409.78 L201 408.56 L201.5 407.29 L202 405.99 L202.5 404.67 L203 403.35 L203.5 402.05 L204 400.79 L204.5 399.59 L205 398.45 L205.5 397.41 L206 396.47 L206.5 395.65 L207 394.95 L207.5 394.39 L208 393.98 L208.5 393.71 L209 393.6 L209.5 393.65 L210 393.85 L210.5 394.21 L211 394.71 L211.5 395.35 L212 396.13 L212.5 397.02 L213 398.03 L213.5 399.12 L214 400.3 L214.5 401.54 L215 402.83 L215.5 404.14 L216 405.46 L216.5 406.77 L217 408.06 L217.5 409.3 L218 410.48 L218.5 411.57 L219 412.58 L219.5 413.47 L220 414.25 L220.5 414.89 L221 415.39 L221.5 415.75 L222 415.95 L222.5 416 L223 415.89 L223.5 415.62 L224 415.21 L224.5 414.65 L225 413.95 L225.5 413.13 L226 412.19 L226.5 411.15" fill="none" stroke="#4a4a4a" stroke-width="1.3" stroke-linejoin="round" stroke-linecap="butt" stroke-dasharray="1.7 1.1"/>
<path d="M37.8 302.6 L38.3 302.4 L38.8 301.81 L39.3 300.84 L39.8 299.5 L40.3 297.81 L40.8 295.8 L41.3 293.49 L41.8 290.92 L42.3 288.12 L42.8 285.14 L43.3 282.02 L43.8 278.81 L44.3 275.55 L44.8 272.29 L45.3 269.08 L45.8 265.96 L46.3 262.98 L46.8 260.18 L47.3 257.61 L47.8 255.3 L48.3 253.29 L48.8 251.6 L49.3 250.26 L49.8 249.29 L50.3 248.7 L50.8 248.5 L51.31 248.73 L51.82 249.43 L52.32 250.59 L52.83 252.17 L53.34 254.17 L53.85 256.55 L54.36 259.27 L54.86 262.29 L55.37 265.55 L55.88 269.02 L56.39 272.63 L56.9 276.34 L57.4 280.06 L57.91 283.77 L58.42 287.38 L58.93 290.85 L59.44 294.11 L59.94 297.13 L60.45 299.85 L60.96 302.23 L61.47 304.23 L61.98 305.81 L62.48 306.97 L62.99 307.67 L63.5 307.9 L64.02 307.74 L64.53 307.27 L65.05 306.49 L65.56 305.41 L66.08 304.06 L66.6 302.45 L67.11 300.61 L67.63 298.57 L68.14 296.36 L68.66 294.01 L69.18 291.57 L69.69 289.06 L70.21 286.54 L70.72 284.03 L71.24 281.59 L71.76 279.24 L72.27 277.03 L72.79 274.99 L73.3 273.15 L73.82 271.54 L74.34 270.19 L74.85 269.11 L75.37 268.33 L75.88 267.86 L76.4 267.7 L76.9 267.8 L77.4 268.11 L77.9 268.61 L78.4 269.3 L78.9 270.17 L79.4 271.21 L79.9 272.4 L80.4 273.73 L80.9 275.17 L81.4 276.7 L81.9 278.31 L82.4 279.97 L82.9 281.65 L83.4 283.33 L83.9 284.99 L84.4 286.6 L84.9 288.13 L85.4 289.57 L85.9 290.9 L86.4 292.09 L86.9 293.13 L87.4 294 L87.9 294.69 L88.4 295.19 L88.9 295.5 L89.4 295.6 L89.9 295.49 L90.4 295.17 L90.9 294.64 L91.4 293.91 L91.9 292.99 L92.4 291.89 L92.9 290.65 L93.4 289.28 L93.9 287.79 L94.4 286.22 L94.9 284.6 L95.4 282.95 L95.9 281.3 L96.4 279.68 L96.9 278.11 L97.4 276.62 L97.9 275.25 L98.4 274.01 L98.9 272.91 L99.4 271.99 L99.9 271.26 L100.4 270.73 L100.9 270.41 L101.4 270.3 L101.9 270.35 L102.4 270.52 L102.9 270.79 L103.4 271.16 L103.9 271.64 L104.4 272.21 L104.9 272.86 L105.4 273.6 L105.9 274.4 L106.4 275.27 L106.9 276.19 L107.4 277.15 L107.9 278.14 L108.4 279.14 L108.9 280.16 L109.4 281.16 L109.9 282.15 L110.4 283.11 L110.9 284.03 L111.4 284.9 L111.9 285.7 L112.4 286.44 L112.9 287.09 L113.4 287.66 L113.9 288.14 L114.4 288.51 L114.9 288.78 L115.4 288.95 L115.9 289 L116.42 288.93 L116.93 288.74 L117.45 288.42 L117.97 287.98 L118.48 287.42 L119 286.76 L119.52 286.01 L120.03 285.18 L120.55 284.28 L121.07 283.33 L121.58 282.35 L122.1 281.35 L122.62 280.35 L123.13 279.37 L123.65 278.42 L124.17 277.52 L124.68 276.69 L125.2 275.94 L125.72 275.28 L126.23 274.72 L126.75 274.28 L127.27 273.96 L127.78 273.77 L128.3 273.7 L128.82 273.75 L129.33 273.88 L129.85 274.11 L130.36 274.42 L130.88 274.81 L131.39 275.27 L131.91 275.81 L132.42 276.4 L132.94 277.05 L133.45 277.73 L133.97 278.45 L134.48 279.2 L135 279.95 L135.52 280.7 L136.03 281.45 L136.55 282.17 L137.06 282.85 L137.58 283.5 L138.09 284.09 L138.61 284.63 L139.12 285.09 L139.64 285.48 L140.15 285.79 L140.67 286.02 L141.18 286.15 L141.7 286.2 L142.21 286.17 L142.72 286.06 L143.23 285.89 L143.74 285.65 L144.26 285.35 L144.77 285 L145.28 284.58 L145.79 284.13 L146.3 283.62 L146.81 283.09 L147.32 282.53 L147.83 281.94 L148.34 281.35 L148.86 280.75 L149.37 280.16 L149.88 279.57 L150.39 279.01 L150.9 278.47 L151.41 277.97 L151.92 277.52 L152.43 277.1 L152.94 276.75 L153.46 276.45 L153.97 276.21 L154.48 276.04 L154.99 275.93 L155.5 275.9 L156 275.93 L156.5 276.03 L157 276.18 L157.5 276.4 L158 276.67 L158.5 276.99 L159 277.37 L159.5 277.78 L160 278.23 L160.5 278.71 L161 279.21 L161.5 279.73 L162 280.25 L162.5 280.77 L163 281.29 L163.5 281.79 L164 282.27 L164.5 282.72 L165 283.13 L165.5 283.51 L166 283.83 L166.5 284.1 L167 284.32 L167.5 284.47 L168 284.57 L168.5 284.6 L169.01 284.57 L169.52 284.49 L170.02 284.36 L170.53 284.18 L171.04 283.95 L171.55 283.67 L172.05 283.35 L172.56 283 L173.07 282.62 L173.58 282.21 L174.08 281.79 L174.59 281.35 L175.1 280.9 L175.61 280.45 L176.12 280.01 L176.62 279.59 L177.13 279.18 L177.64 278.8 L178.15 278.45 L178.65 278.13 L179.16 277.85 L179.67 277.62 L180.18 277.44 L180.68 277.31 L181.19 277.23 L181.7 277.2 L182.2 277.22 L182.71 277.29 L183.21 277.41 L183.71 277.57 L184.22 277.78 L184.72 278.02 L185.23 278.3 L185.73 278.61 L186.23 278.95 L186.74 279.31 L187.24 279.7 L187.74 280.09 L188.25 280.5 L188.75 280.9 L189.26 281.31 L189.76 281.7 L190.26 282.09 L190.77 282.45 L191.27 282.79 L191.77 283.1 L192.28 283.38 L192.78 283.62 L193.29 283.83 L193.79 283.99 L194.29 284.11 L194.8 284.18 L195.3 284.2 L195.8 284.18 L196.3 284.11 L196.8 283.99 L197.3 283.84 L197.8 283.64 L198.3 283.41 L198.8 283.14 L199.3 282.85 L199.8 282.53 L200.3 282.2 L200.8 281.85 L201.3 281.5 L201.8 281.15 L202.3 280.8 L202.8 280.47 L203.3 280.15 L203.8 279.86 L204.3 279.59 L204.8 279.36 L205.3 279.16 L205.8 279.01 L206.3 278.89 L206.8 278.82 L207.3 278.8 L207.8 278.82 L208.31 278.86 L208.81 278.94 L209.31 279.06 L209.82 279.19 L210.32 279.36 L210.83 279.55 L211.33 279.77 L211.83 280 L212.34 280.25 L212.84 280.51 L213.34 280.78 L213.85 281.06 L214.35 281.34 L214.86 281.62 L215.36 281.89 L215.86 282.15 L216.37 282.4 L216.87 282.63 L217.37 282.85 L217.88 283.04 L218.38 283.21 L218.89 283.34 L219.39 283.46 L219.89 283.54 L220.4 283.58 L220.9 283.6 L221.46 283.56 L222.01 283.43 L222.57 283.25 L223.13 283.05 L223.69 282.87 L224.24 282.74 L224.8 282.7" fill="none" stroke="#000" stroke-width="1.6" stroke-linejoin="round" stroke-linecap="round" />
<path d="M34.3 340.8 L34.84 341.66 L35.39 344.08 L35.93 347.56 L36.47 351.44 L37.01 354.92 L37.56 357.34 L38.1 358.2 L38.6 357.98 L39.11 357.31 L39.61 356.22 L40.12 354.7 L40.62 352.79 L41.12 350.5 L41.63 347.86 L42.13 344.91 L42.64 341.69 L43.14 338.23 L43.65 334.57 L44.15 330.77 L44.65 326.86 L45.16 322.89 L45.66 318.9 L46.17 314.95 L46.67 311.07 L47.18 307.31 L47.68 303.7 L48.18 300.27 L48.69 297.07 L49.19 294.11 L49.7 291.41 L50.2 289 L50.72 291.34 L51.23 293.93 L51.75 296.77 L52.26 299.83 L52.78 303.09 L53.29 306.53 L53.81 310.13 L54.32 313.85 L54.84 317.65 L55.35 321.51 L55.87 325.39 L56.38 329.25 L56.9 333.06 L57.42 336.77 L57.93 340.35 L58.45 343.76 L58.96 346.97 L59.48 349.94 L59.99 352.64 L60.51 355.04 L61.02 357.12 L61.54 358.85 L62.05 360.22 L62.57 361.2 L63.08 361.8 L63.6 362 L64.12 361.79 L64.63 361.15 L65.15 360.1 L65.67 358.67 L66.19 356.86 L66.7 354.73 L67.22 352.31 L67.74 349.64 L68.26 346.77 L68.77 343.76 L69.29 340.66 L69.81 337.54 L70.33 334.44 L70.84 331.43 L71.36 328.56 L71.88 325.89 L72.4 323.47 L72.91 321.34 L73.43 319.53 L73.95 318.1 L74.47 317.05 L74.98 316.41 L75.5 316.2 L76 316.28 L76.5 316.51 L77 316.88 L77.5 317.41 L78 318.07 L78.5 318.86 L79 319.78 L79.5 320.8 L80 321.93 L80.5 323.14 L81 324.42 L81.5 325.76 L82 327.14 L82.5 328.54 L83 329.96 L83.5 331.36 L84 332.74 L84.5 334.08 L85 335.36 L85.5 336.57 L86 337.7 L86.5 338.72 L87 339.64 L87.5 340.43 L88 341.09 L88.5 341.62 L89 341.99 L89.5 342.22 L90 342.3 L90.52 342.2 L91.04 341.91 L91.55 341.42 L92.07 340.76 L92.59 339.93 L93.11 338.95 L93.63 337.84 L94.15 336.63 L94.66 335.33 L95.18 333.98 L95.7 332.6 L96.22 331.22 L96.74 329.87 L97.25 328.57 L97.77 327.36 L98.29 326.25 L98.81 325.27 L99.33 324.44 L99.85 323.78 L100.36 323.29 L100.88 323 L101.4 322.9 L101.92 322.95 L102.43 323.1 L102.95 323.34 L103.47 323.67 L103.98 324.09 L104.5 324.58 L105.02 325.15 L105.53 325.77 L106.05 326.45 L106.57 327.16 L107.08 327.9 L107.6 328.65 L108.12 329.4 L108.63 330.14 L109.15 330.85 L109.67 331.52 L110.18 332.15 L110.7 332.72 L111.22 333.21 L111.73 333.63 L112.25 333.96 L112.77 334.2 L113.28 334.35 L113.8 334.4 L114.31 334.37 L114.81 334.26 L115.32 334.1 L115.82 333.86 L116.33 333.57 L116.84 333.21 L117.34 332.79 L117.85 332.33 L118.35 331.81 L118.86 331.24 L119.36 330.64 L119.87 329.99 L120.38 329.32 L120.88 328.63 L121.39 327.91 L121.89 327.18 L122.4 326.45 L122.91 325.72 L123.41 324.99 L123.92 324.27" fill="none" stroke="#222" stroke-width="1.5" stroke-linejoin="round" stroke-linecap="round" />
<path d="M129 317.6 L131.7 321.02 L134.4 324.34 L136.5 326.3 L138.7 327.84 L140.6 328.54 L142.5 329.42 L146.9 329.91 L147.25 329.69 L147.61 330.16 L147.97 329.4 L148.32 329.74 L148.68 329.34 L149.03 328.75 L149.38 328.96 L149.74 328.14 L150.09 328.26 L150.45 327.53 L150.81 327.22 L151.16 327.27 L151.52 327.41 L151.87 326.35 L152.22 326.21 L152.58 326.44 L152.94 326.62 L153.29 326.09 L153.65 325.81 L154 326.42 L154.35 325.41 L154.71 326.32 L155.06 325.73 L155.41 325.62 L155.77 325.65 L156.12 325.94 L156.48 326.58 L156.83 325.99 L157.18 326.54 L157.54 326.72 L157.89 326.56 L158.24 326.9 L158.6 326.51 L158.95 326.67 L159.3 326.99 L159.66 327.69 L160.01 327.58 L160.37 327.64 L160.72 328.12 L161.07 328.16 L161.43 328.17 L161.78 328.9 L162.13 328.98 L162.49 328.65 L162.84 329.19 L163.2 329.31 L163.55 329.86 L163.9 329.86 L164.26 329.52 L164.61 330.42 L164.96 329.61 L165.32 330.06 L165.67 330.55 L166.02 329.98 L166.38 330.44 L166.73 330.02 L167.09 330.77 L167.44 330.93 L167.79 330.75 L168.15 331.11 L168.5 330.5 L168.85 330.91 L169.2 330.77 L169.55 330.7 L169.91 330.5 L170.26 330.84 L170.61 330.86 L170.96 330.22 L171.31 330.3 L171.66 329.49 L172.02 330.04 L172.37 329.81 L172.72 330.01 L173.07 329.64 L173.42 328.86 L173.77 328.77 L174.12 328.89 L174.48 327.97 L174.83 328.26 L175.18 327.74 L175.53 327.49 L175.88 327.24 L176.23 327.85 L176.58 326.97 L176.94 326.95 L177.29 326.96 L177.64 327.36 L177.99 326.37 L178.34 326.68 L178.69 326.7 L179.05 327.01 L179.4 326.89 L179.75 326.91 L180.1 326.26 L180.46 326.41 L180.82 326.38 L181.18 326.99 L181.54 327.13 L181.9 326.31 L182.26 326.41 L182.61 326.57 L182.97 326.67 L183.33 327.06 L183.69 327.29 L184.05 327.06 L184.41 326.9 L184.77 327.49 L185.13 327.57 L185.49 327.92 L185.85 328.48 L186.21 328.32 L186.57 328.24 L186.93 328.47 L187.29 328.63 L187.64 328.04 L188 329.05 L188.36 328.99 L188.72 329.14 L189.08 329.1 L189.44 328.67 L189.8 328.69 L190.16 328.35 L190.53 328.9 L190.89 328.22 L191.26 328.15 L191.62 328.22 L191.99 328.07 L192.35 328.15 L192.72 327.72 L193.08 327.54 L193.45 327.59 L193.81 327.42 L194.18 327.61 L194.54 327.15 L194.91 328.01 L195.27 327.67 L195.64 327.12 L196 327.23 L196.35 327.33 L196.7 327.36 L197.06 327.1 L197.41 327.91 L197.76 328.08 L198.11 327.52 L198.47 327.56 L198.82 327.14 L199.17 327.18 L199.52 327.47 L199.88 327.4 L200.23 328.05 L200.58 327.33 L200.93 327.2 L201.29 328.24 L201.64 327.79 L201.99 327.39 L202.34 327.83 L202.7 327.27 L203.05 327.83 L203.4 327.8" fill="none" stroke="#222" stroke-width="1.5" stroke-linejoin="round" stroke-linecap="round" />
<path d="M36.9 386.8 L37.4 386.58 L37.9 385.93 L38.4 384.85 L38.9 383.38 L39.4 381.53 L39.9 379.34 L40.4 376.85 L40.9 374.11 L41.4 371.17 L41.9 368.08 L42.4 364.9 L42.9 361.7 L43.4 358.52 L43.9 355.43 L44.4 352.49 L44.9 349.75 L45.4 347.26 L45.9 345.07 L46.4 343.22 L46.9 341.75 L47.4 340.67 L47.9 340.02 L48.4 339.8 L48.9 339.97 L49.41 340.48 L49.91 341.32 L50.41 342.49 L50.92 343.96 L51.42 345.72 L51.92 347.75 L52.43 350.02 L52.93 352.51 L53.44 355.17 L53.94 357.98 L54.44 360.91 L54.95 363.91 L55.45 366.95 L55.95 369.99 L56.46 372.99 L56.96 375.92 L57.46 378.73 L57.97 381.39 L58.47 383.88 L58.98 386.15 L59.48 388.18 L59.98 389.94 L60.49 391.41 L60.99 392.58 L61.49 393.42 L62 393.93 L62.5 394.1 L63 393.94 L63.51 393.44 L64.01 392.63 L64.52 391.52 L65.02 390.11 L65.52 388.43 L66.03 386.5 L66.53 384.36 L67.03 382.03 L67.54 379.55 L68.04 376.95 L68.55 374.27 L69.05 371.55 L69.55 368.83 L70.06 366.15 L70.56 363.55 L71.07 361.07 L71.57 358.74 L72.07 356.6 L72.58 354.67 L73.08 352.99 L73.58 351.58 L74.09 350.47 L74.59 349.66 L75.1 349.16 L75.6 349 L76.11 349.12 L76.61 349.48 L77.12 350.07 L77.63 350.88 L78.14 351.91 L78.64 353.14 L79.15 354.55 L79.66 356.13 L80.17 357.85 L80.67 359.69 L81.18 361.62 L81.69 363.63 L82.2 365.67 L82.7 367.73 L83.21 369.77 L83.72 371.78 L84.23 373.71 L84.73 375.55 L85.24 377.27 L85.75 378.85 L86.26 380.26 L86.76 381.49 L87.27 382.52 L87.78 383.33 L88.29 383.92 L88.79 384.28 L89.3 384.4 L89.81 384.28 L90.32 383.93 L90.83 383.36 L91.33 382.56 L91.84 381.57 L92.35 380.39 L92.86 379.04 L93.37 377.55 L93.88 375.94 L94.38 374.25 L94.89 372.49 L95.4 370.7 L95.91 368.91 L96.42 367.15 L96.92 365.46 L97.43 363.85 L97.94 362.36 L98.45 361.01 L98.96 359.83 L99.47 358.84 L99.97 358.04 L100.48 357.47 L100.99 357.12 L101.5 357 L102 357.06 L102.51 357.25 L103.01 357.55 L103.51 357.98 L104.02 358.51 L104.52 359.15 L105.02 359.89 L105.53 360.72 L106.03 361.63 L106.53 362.61 L107.04 363.65 L107.54 364.73 L108.04 365.84 L108.55 366.98 L109.05 368.12 L109.56 369.26 L110.06 370.37 L110.56 371.45 L111.07 372.49 L111.57 373.47 L112.07 374.38 L112.58 375.21 L113.08 375.95 L113.58 376.59 L114.09 377.12 L114.59 377.55 L115.09 377.85 L115.6 378.04 L116.1 378.1" fill="none" stroke="#222" stroke-width="1.5" stroke-linejoin="round" stroke-linecap="round" />
<path d="M117.3 357.6 L117.66 358.02 L118.01 358.51 L118.37 359.06 L118.72 359.66 L119.08 360.31 L119.44 360.97 L119.79 361.64 L120.15 362.31 L120.51 362.95 L120.86 363.54 L121.22 364.07 L121.58 364.53 L121.93 364.9 L122.29 365.18 L122.64 365.34 L123 365.4 L123.35 365.37 L123.7 365.28 L124.06 365.6 L124.41 365.28 L124.76 364.85 L125.11 364.11 L125.47 363.87 L125.82 363.29 L126.17 363.49 L126.52 362.84 L126.88 362.67 L127.23 361.81 L127.58 361.3 L127.93 361.51 L128.29 361.34 L128.64 360.9 L128.99 360.59 L129.34 360.4 L129.7 360.16 L130.05 359.56 L130.4 359.82 L130.76 359.69 L131.12 359.45 L131.47 359.6 L131.83 360.06 L132.19 360.3 L132.55 361.05 L132.91 361.69 L133.27 361.6 L133.62 362.55 L133.98 363.11 L134.34 363.62 L134.7 363.61 L135.06 364.08 L135.42 364.72 L135.78 365.35 L136.13 366.03 L136.49 367.14 L136.85 368.1 L137.21 368.73 L137.57 369.05 L137.93 369.9 L138.28 370.7 L138.64 370.62 L139 371.81 L139.36 372.64 L139.72 373.06 L140.08 373.54 L140.43 373.73 L140.79 373.85 L141.15 374.83 L141.51 374.69 L141.87 375.42 L142.23 375.8 L142.58 375.38 L142.94 375.47 L143.3 376.05 L143.66 375.8 L144.02 375.16 L144.38 374.98 L144.74 374.82 L145.1 375.33 L145.46 374.94 L145.82 373.95 L146.18 374.25 L146.54 373.98 L146.9 373.2 L147.26 372.4 L147.62 372.07 L147.98 371.1 L148.34 370.42 L148.7 370.78 L149.06 369.86 L149.42 369.13 L149.78 368.93 L150.14 367.82 L150.5 367.66 L150.86 367.02 L151.22 365.84 L151.58 365.33 L151.94 364.85 L152.3 364.3 L152.66 364.19 L153.02 363.44 L153.38 363.22 L153.74 362.59 L154.1 363.08 L154.46 362.29 L154.82 362.2 L155.18 362.19 L155.54 362.43 L155.9 361.92 L156.26 362.44 L156.62 362.07 L156.97 362.2 L157.33 362.31 L157.69 361.97 L158.05 362.58 L158.41 362.55 L158.76 362.63 L159.12 363.71 L159.48 363.4 L159.84 364.04 L160.19 364.65 L160.55 364.86 L160.91 365.03 L161.27 365.63 L161.63 366.09 L161.98 366.75 L162.34 366.51 L162.7 367.41 L163.06 367.54 L163.42 368.01 L163.77 368.94 L164.13 369.09 L164.49 369.56 L164.85 370.16 L165.21 370.69 L165.56 370.58 L165.92 371.09 L166.28 371.29 L166.64 371.58 L166.99 372.02 L167.35 372.01 L167.71 372.28 L168.07 372.39 L168.43 372.98 L168.78 372.83 L169.14 373.06 L169.5 373.14 L169.86 372.44 L170.22 372.68 L170.58 372.97 L170.94 372.73 L171.3 371.86 L171.66 371.64 L172.02 371.72 L172.38 371.07 L172.74 370.94 L173.1 370.45 L173.46 370.69 L173.82 370.43 L174.18 370.15 L174.54 369 L174.9 369.15 L175.26 368.66 L175.62 367.71 L175.98 368.02 L176.34 367.67 L176.7 366.49 L177.06 366.8 L177.42 365.84 L177.78 365.54 L178.14 365.67 L178.5 365.16 L178.86 364.16 L179.22 364.13 L179.58 363.94 L179.94 363.53 L180.3 363.18 L180.66 363.13 L181.02 363.4 L181.38 362.6 L181.74 363.07 L182.1 362.94 L182.45 362.53 L182.81 362.88 L183.16 363.24 L183.51 363.21 L183.87 362.88 L184.22 363.94 L184.58 363.9 L184.93 364.26 L185.28 363.6 L185.64 363.98 L185.99 364 L186.34 364.99 L186.7 364.76 L187.05 364.9 L187.4 365.49 L187.76 366.29 L188.11 366.52 L188.47 366.28 L188.82 366.5 L189.17 367.6 L189.53 367.59 L189.88 368.05 L190.23 367.77 L190.59 368.06 L190.94 369.01 L191.3 369.05 L191.65 369 L192 370.15 L192.36 370.12 L192.71 370.55 L193.06 370.07 L193.42 371.06 L193.77 370.47 L194.12 371.45 L194.48 371.2 L194.83 371.22 L195.19 371.55 L195.54 372.01 L195.89 371.42 L196.25 371.32 L196.6 371.73 L196.95 371.42 L197.3 371.22 L197.66 371.16 L198.01 370.89 L198.36 370.85 L198.71 370.73 L199.06 370.45 L199.42 370.61 L199.77 369.82 L200.12 369.7 L200.47 369.02 L200.82 368.83 L201.18 368.14 L201.53 368.01 L201.88 367.42 L202.23 367.8 L202.58 367.3 L202.94 366.64 L203.29 366.66 L203.64 366.89 L203.99 365.86 L204.34 366.42 L204.7 365.92 L205.05 365.92 L205.4 365.9" fill="none" stroke="#222" stroke-width="1.5" stroke-linejoin="round" stroke-linecap="round" />
<path d="M45 375.4 L43 427.5" fill="none" stroke="#000" stroke-width="1.6" stroke-linejoin="round" stroke-linecap="butt" />
<path d="M55.7 375.4 L57.6 427.5" fill="none" stroke="#000" stroke-width="1.6" stroke-linejoin="round" stroke-linecap="butt" />
<path d="M73.1 375.4 L70.3 427.5" fill="none" stroke="#000" stroke-width="1.6" stroke-linejoin="round" stroke-linecap="butt" />
<path d="M80.4 375.4 L83.7 427.5" fill="none" stroke="#000" stroke-width="1.6" stroke-linejoin="round" stroke-linecap="butt" />
<path d="M94.4 426.6 L94.76 426.33 L95.12 425.51 L95.49 424.17 L95.85 422.33 L96.21 420.05 L96.57 417.36 L96.93 414.33 L97.3 411.02 L97.66 407.51 L98.02 403.88 L98.38 400.22 L98.74 396.59 L99.1 393.08 L99.47 389.78 L99.83 386.74 L100.19 384.05 L100.55 381.77 L100.91 379.93 L101.28 378.59 L101.64 377.77 L102 377.5 L102.35 377.57 L102.7 377.8 L103.06 378.16 L103.41 378.68 L103.76 379.33 L104.11 380.12 L104.47 381.04 L104.82 382.09 L105.17 383.26 L105.53 384.54 L105.88 385.93 L106.23 387.41 L106.58 388.98 L106.94 390.63 L107.29 392.35 L107.64 394.12 L107.99 395.94 L108.34 397.79 L108.7 399.66 L109.05 401.55 L109.4 403.44 L109.75 405.31 L110.11 407.16 L110.46 408.98 L110.81 410.75 L111.16 412.47 L111.52 414.12 L111.87 415.69 L112.22 417.17 L112.57 418.56 L112.93 419.84 L113.28 421.01 L113.63 422.06 L113.98 422.98 L114.34 423.77 L114.69 424.42 L115.04 424.94 L115.39 425.3 L115.75 425.53 L116.1 425.6 L116.45 425.52 L116.81 425.29 L117.16 424.9 L117.51 424.37 L117.87 423.69 L118.22 422.88 L118.57 421.93 L118.92 420.87 L119.28 419.7 L119.63 418.42 L119.98 417.06 L120.34 415.63 L120.69 414.14 L121.04 412.6 L121.4 411.03 L121.75 409.45 L122.1 407.87 L122.46 406.3 L122.81 404.76 L123.16 403.27 L123.52 401.84 L123.87 400.48 L124.22 399.2 L124.58 398.03 L124.93 396.97 L125.28 396.02 L125.63 395.21 L125.99 394.53 L126.34 394 L126.69 393.61 L127.05 393.38 L127.4 393.3 L127.76 393.33 L128.12 393.42 L128.47 393.58 L128.83 393.8 L129.19 394.07 L129.55 394.41 L129.9 394.8 L130.26 395.24 L130.62 395.73 L130.97 396.27 L131.33 396.86 L131.69 397.48 L132.05 398.15 L132.41 398.84 L132.76 399.57 L133.12 400.31 L133.48 401.08 L133.84 401.86 L134.19 402.65 L134.55 403.45 L134.91 404.25 L135.26 405.04 L135.62 405.82 L135.98 406.59 L136.34 407.33 L136.69 408.06 L137.05 408.75 L137.41 409.42 L137.77 410.04 L138.12 410.63 L138.48 411.17 L138.84 411.66 L139.2 412.1 L139.55 412.49 L139.91 412.83 L140.27 413.1 L140.63 413.32 L140.98 413.48 L141.34 413.57 L141.7 413.6 L142.05 413.57 L142.4 413.5 L142.75 413.37 L143.11 413.2 L143.46 412.98 L143.81 412.71 L144.16 412.4 L144.51 412.04 L144.86 411.65 L145.21 411.23 L145.57 410.77 L145.92 410.29 L146.27 409.78 L146.62 409.25 L146.97 408.7 L147.32 408.15 L147.67 407.58 L148.03 407.02 L148.38 406.45 L148.73 405.9 L149.08 405.35 L149.43 404.82 L149.78 404.31 L150.13 404.1 L150.49 403.29 L150.84 402.95 L151.19 402.71 L151.54 402.59 L151.89 401.77 L152.24 401.89 L152.59 401.57 L152.95 401.34 L153.3 401.03 L153.65 400.9 L154 400.64 L154.35 400.71 L154.71 400.68 L155.06 401.24 L155.41 400.89 L155.77 400.86 L156.12 400.85 L156.48 401.52 L156.83 401.62 L157.18 401.54 L157.54 401.31 L157.89 401.38 L158.24 401.52 L158.6 401.77 L158.95 401.64 L159.3 401.99 L159.66 401.97 L160.01 402.66 L160.37 402.79 L160.72 402.59 L161.07 402.48 L161.43 403.19 L161.78 402.8 L162.13 402.97 L162.49 402.81 L162.84 403.25 L163.2 403.45 L163.55 403.59 L163.9 403.46 L164.26 403.81 L164.61 403.52 L164.96 403.82 L165.32 403.77 L165.67 404.1 L166.02 403.89 L166.38 403.94 L166.73 404.22 L167.09 404.2 L167.44 404.52 L167.79 404.5 L168.15 404.7 L168.5 404.63 L168.86 404.67 L169.22 404.77 L169.57 404.34 L169.93 404.24 L170.29 404.7 L170.65 403.95 L171.01 404.32 L171.36 404.15 L171.72 403.55 L172.08 404.06 L172.44 403.96 L172.79 403.61 L173.15 403.53 L173.51 403.43 L173.87 402.73 L174.23 402.86 L174.58 402.67 L174.94 402.75 L175.3 402.54 L175.66 402.38 L176.02 402.01 L176.37 402.07 L176.73 401.73 L177.09 401.57 L177.45 401.04 L177.81 400.72 L178.16 400.66 L178.52 400.7 L178.88 400.37 L179.24 400.83 L179.59 400.51 L179.95 400.47 L180.31 400.39 L180.67 400.36 L181.03 400.16 L181.38 399.73 L181.74 400.35 L182.1 400.3 L182.45 400.11 L182.81 400.15 L183.16 400.27 L183.51 399.82 L183.87 400.4 L184.22 400.05 L184.57 399.96 L184.93 400.18 L185.28 400.61 L185.64 400.26 L185.99 400.76 L186.34 401.02 L186.7 400.72 L187.05 400.71 L187.4 400.86 L187.76 401.1 L188.11 401.24 L188.46 401.2 L188.82 401.29 L189.17 400.9 L189.53 401.01 L189.88 401.15 L190.23 401.59 L190.59 401.27 L190.94 401.51 L191.29 401.09 L191.65 401.14 L192 401.32 L192.36 401.64 L192.71 401.65 L193.07 401.62 L193.43 401.3 L193.78 401.46 L194.14 401.4 L194.49 401.37 L194.85 401.06 L195.21 401.65 L195.56 401.06 L195.92 401.64 L196.28 401.57 L196.63 400.79 L196.99 401.1 L197.34 401.35 L197.7 401.42 L198.06 400.97 L198.41 400.78 L198.77 400.69 L199.12 401.23 L199.48 400.61 L199.84 400.87 L200.19 400.48 L200.55 400.75 L200.91 401.06 L201.26 400.38 L201.62 400.91 L201.97 400.64 L202.33 400.93 L202.69 400.77 L203.04 400.39 L203.4 400.6" fill="none" stroke="#111" stroke-width="1.6" stroke-linejoin="round" stroke-linecap="round" />
<path d="M122.3 293.4 H125.7 V303.6 H127.55 L124 316.2 L120.45 303.6 H122.3 Z" fill="url(#ag)" stroke="#2a2a2a" stroke-width="1.1" stroke-linejoin="miter"/>
<path d="M118.2 345.4 H121.6 V354.4 H123.45 L119.9 367 L116.35 354.4 H118.2 Z" fill="url(#ag)" stroke="#2a2a2a" stroke-width="1.1" stroke-linejoin="miter"/>
<path d="M105.7 380.6 H109.1 V390.7 H110.95 L107.4 403.3 L103.85 390.7 H105.7 Z" fill="url(#ag)" stroke="#2a2a2a" stroke-width="1.1" stroke-linejoin="miter"/>
<text x="419.6" y="234.9" font-size="11" font-weight="bold" font-style="normal" text-anchor="start" fill="#111" stroke="#111" stroke-width="0.25" textLength="104.4" lengthAdjust="spacingAndGlyphs">JellyOp <tspan font-style="italic">per2::luc</tspan></text>
<path d="M364.8 247.6V427M391 247.6V427M417.2 247.6V427M443.4 247.6V427M469.6 247.6V427M495.8 247.6V427M522 247.6V427M548.2 247.6V427" stroke="#434343" stroke-width="1"/>
<path d="M359.9 427 H549" stroke="#000" stroke-width="1.4"/>
<path d="M364.8 427V430.6M391 427V430.6M417.2 427V430.6M443.4 427V430.6M469.6 427V430.6M495.8 427V430.6M522 427V430.6M548.2 427V430.6" stroke="#000" stroke-width="1.2"/>
<text transform="translate(366.3 442) scale(1.1 1)" font-size="10" font-weight="bold" font-style="normal" text-anchor="middle" fill="#000" stroke="#000" stroke-width="0.25">1</text>
<text transform="translate(392.5 442) scale(1.1 1)" font-size="10" font-weight="bold" font-style="normal" text-anchor="middle" fill="#000" stroke="#000" stroke-width="0.25">2</text>
<text transform="translate(418.7 442) scale(1.1 1)" font-size="10" font-weight="bold" font-style="normal" text-anchor="middle" fill="#000" stroke="#000" stroke-width="0.25">3</text>
<text transform="translate(444.9 442) scale(1.1 1)" font-size="10" font-weight="bold" font-style="normal" text-anchor="middle" fill="#000" stroke="#000" stroke-width="0.25">4</text>
<text transform="translate(471.1 442) scale(1.1 1)" font-size="10" font-weight="bold" font-style="normal" text-anchor="middle" fill="#000" stroke="#000" stroke-width="0.25">5</text>
<text transform="translate(497.3 442) scale(1.1 1)" font-size="10" font-weight="bold" font-style="normal" text-anchor="middle" fill="#000" stroke="#000" stroke-width="0.25">6</text>
<text transform="translate(523.5 442) scale(1.1 1)" font-size="10" font-weight="bold" font-style="normal" text-anchor="middle" fill="#000" stroke="#000" stroke-width="0.25">7</text>
<text transform="translate(549.7 442) scale(1.1 1)" font-size="10" font-weight="bold" font-style="normal" text-anchor="middle" fill="#000" stroke="#000" stroke-width="0.25">8</text>
<text x="433.4" y="454.9" font-size="10" font-weight="bold" font-style="normal" text-anchor="start" fill="#000" stroke="#000" stroke-width="0.25" textLength="51.3" lengthAdjust="spacingAndGlyphs">Time (day)</text>
<text x="356.5" y="333.8" font-size="11" font-weight="bold" font-style="normal" text-anchor="middle" fill="#000" stroke="#000" stroke-width="0.25" textLength="60.5" lengthAdjust="spacingAndGlyphs" transform="rotate(-90 356.5 333.8)">Relative LU</text>
<path d="M359.4 326.38 L359.9 327.54 L360.4 328.59 L360.9 329.51 L361.4 330.29 L361.9 330.91 L362.4 331.38 L362.9 331.67 L363.4 331.8 L363.9 331.74 L364.4 331.52 L364.9 331.12 L365.4 330.56 L365.9 329.84 L366.4 328.97 L366.9 327.97 L367.4 326.85 L367.9 325.63 L368.4 324.33 L368.9 322.95 L369.4 321.53 L369.9 320.09 L370.4 318.64 L370.9 317.21 L371.4 315.82 L371.9 314.48 L372.4 313.22 L372.9 312.06 L373.4 311.01 L373.9 310.09 L374.4 309.31 L374.9 308.69 L375.4 308.22 L375.9 307.93 L376.4 307.8 L376.9 307.86 L377.4 308.08 L377.9 308.48 L378.4 309.04 L378.9 309.76 L379.4 310.63 L379.9 311.63 L380.4 312.75 L380.9 313.97 L381.4 315.27 L381.9 316.65 L382.4 318.07 L382.9 319.51 L383.4 320.96 L383.9 322.39 L384.4 323.78 L384.9 325.12 L385.4 326.38 L385.9 327.54 L386.4 328.59 L386.9 329.51 L387.4 330.29 L387.9 330.91 L388.4 331.38 L388.9 331.67 L389.4 331.8 L389.9 331.74 L390.4 331.52 L390.9 331.12 L391.4 330.56 L391.9 329.84 L392.4 328.97 L392.9 327.97 L393.4 326.85 L393.9 325.63 L394.4 324.33 L394.9 322.95 L395.4 321.53 L395.9 320.09 L396.4 318.64 L396.9 317.21 L397.4 315.82 L397.9 314.48 L398.4 313.22 L398.9 312.06 L399.4 311.01 L399.9 310.09 L400.4 309.31 L400.9 308.69 L401.4 308.22 L401.9 307.93 L402.4 307.8 L402.9 307.86 L403.4 308.08 L403.9 308.48 L404.4 309.04 L404.9 309.76 L405.4 310.63 L405.9 311.63 L406.4 312.75 L406.9 313.97 L407.4 315.27 L407.9 316.65 L408.4 318.07 L408.9 319.51 L409.4 320.96 L409.9 322.39 L410.4 323.78 L410.9 325.12 L411.4 326.38 L411.9 327.54 L412.4 328.59 L412.9 329.51 L413.4 330.29 L413.9 330.91 L414.4 331.38 L414.9 331.67 L415.4 331.8 L415.9 331.74 L416.4 331.52 L416.9 331.12 L417.4 330.56 L417.9 329.84 L418.4 328.97 L418.9 327.97 L419.4 326.85 L419.9 325.63 L420.4 324.33 L420.9 322.95 L421.4 321.53 L421.9 320.09 L422.4 318.64 L422.9 317.21 L423.4 315.82 L423.9 314.48 L424.4 313.22 L424.9 312.06 L425.4 311.01 L425.9 310.09 L426.4 309.31 L426.9 308.69 L427.4 308.22 L427.9 307.93 L428.4 307.8 L428.9 307.86 L429.4 308.08 L429.9 308.48 L430.4 309.04 L430.9 309.76 L431.4 310.63 L431.9 311.63 L432.4 312.75 L432.9 313.97 L433.4 315.27 L433.9 316.65 L434.4 318.07 L434.9 319.51 L435.4 320.96 L435.9 322.39 L436.4 323.78 L436.9 325.12 L437.4 326.38 L437.9 327.54 L438.4 328.59 L438.9 329.51 L439.4 330.29 L439.9 330.91 L440.4 331.38 L440.9 331.67 L441.4 331.8 L441.9 331.74 L442.4 331.52 L442.9 331.12 L443.4 330.56 L443.9 329.84 L444.4 328.97 L444.9 327.97 L445.4 326.85 L445.9 325.63 L446.4 324.33 L446.9 322.95 L447.4 321.53 L447.9 320.09 L448.4 318.64 L448.9 317.21 L449.4 315.82 L449.9 314.48 L450.4 313.22 L450.9 312.06 L451.4 311.01 L451.9 310.09 L452.4 309.31 L452.9 308.69 L453.4 308.22 L453.9 307.93 L454.4 307.8 L454.9 307.86 L455.4 308.08 L455.9 308.48 L456.4 309.04 L456.9 309.76 L457.4 310.63 L457.9 311.63 L458.4 312.75 L458.9 313.97 L459.4 315.27 L459.9 316.65 L460.4 318.07 L460.9 319.51 L461.4 320.96 L461.9 322.39 L462.4 323.78 L462.9 325.12 L463.4 326.38 L463.9 327.54 L464.4 328.59 L464.9 329.51 L465.4 330.29 L465.9 330.91 L466.4 331.38 L466.9 331.67 L467.4 331.8 L467.9 331.74 L468.4 331.52 L468.9 331.12 L469.4 330.56 L469.9 329.84 L470.4 328.97 L470.9 327.97 L471.4 326.85 L471.9 325.63 L472.4 324.33 L472.9 322.95 L473.4 321.53 L473.9 320.09 L474.4 318.64 L474.9 317.21 L475.4 315.82 L475.9 314.48 L476.4 313.22 L476.9 312.06 L477.4 311.01 L477.9 310.09 L478.4 309.31 L478.9 308.69 L479.4 308.22 L479.9 307.93 L480.4 307.8 L480.9 307.86 L481.4 308.08 L481.9 308.48 L482.4 309.04 L482.9 309.76 L483.4 310.63 L483.9 311.63 L484.4 312.75 L484.9 313.97 L485.4 315.27 L485.9 316.65 L486.4 318.07 L486.9 319.51 L487.4 320.96 L487.9 322.39 L488.4 323.78 L488.9 325.12 L489.4 326.38 L489.9 327.54 L490.4 328.59 L490.9 329.51 L491.4 330.29 L491.9 330.91 L492.4 331.38 L492.9 331.67 L493.4 331.8 L493.9 331.74 L494.4 331.52 L494.9 331.12 L495.4 330.56 L495.9 329.84 L496.4 328.97 L496.9 327.97 L497.4 326.85 L497.9 325.63 L498.4 324.33 L498.9 322.95 L499.4 321.53 L499.9 320.09 L500.4 318.64 L500.9 317.21 L501.4 315.82 L501.9 314.48 L502.4 313.22 L502.9 312.06 L503.4 311.01 L503.9 310.09 L504.4 309.31 L504.9 308.69 L505.4 308.22 L505.9 307.93 L506.4 307.8 L506.9 307.86 L507.4 308.08 L507.9 308.48 L508.4 309.04 L508.9 309.76 L509.4 310.63 L509.9 311.63 L510.4 312.75 L510.9 313.97 L511.4 315.27 L511.9 316.65 L512.4 318.07 L512.9 319.51 L513.4 320.96 L513.9 322.39 L514.4 323.78 L514.9 325.12 L515.4 326.38 L515.9 327.54 L516.4 328.59 L516.9 329.51 L517.4 330.29 L517.9 330.91 L518.4 331.38 L518.9 331.67 L519.4 331.8 L519.9 331.74 L520.4 331.52 L520.9 331.12 L521.4 330.56 L521.9 329.84 L522.4 328.97 L522.9 327.97 L523.4 326.85 L523.9 325.63 L524.4 324.33 L524.9 322.95 L525.4 321.53 L525.9 320.09 L526.4 318.64 L526.9 317.21 L527.4 315.82 L527.9 314.48 L528.4 313.22 L528.9 312.06 L529.4 311.01 L529.9 310.09 L530.4 309.31 L530.9 308.69 L531.4 308.22 L531.9 307.93 L532.4 307.8 L532.9 307.86 L533.4 308.08" fill="none" stroke="#4a4a4a" stroke-width="1.3" stroke-linejoin="round" stroke-linecap="butt" stroke-dasharray="1.7 1.1"/>
<path d="M361 370.8 L361.5 372.06 L362 373.22 L362.5 374.29 L363 375.23 L363.5 376.05 L364 376.72 L364.5 377.23 L365 377.58 L365.5 377.77 L366 377.79 L366.5 377.63 L367 377.31 L367.5 376.83 L368 376.19 L368.5 375.41 L369 374.49 L369.5 373.45 L370 372.3 L370.5 371.06 L371 369.75 L371.5 368.39 L372 366.99 L372.5 365.59 L373 364.19 L373.5 362.82 L374 361.5 L374.5 360.24 L375 359.08 L375.5 358.01 L376 357.07 L376.5 356.25 L377 355.58 L377.5 355.07 L378 354.72 L378.5 354.53 L379 354.51 L379.5 354.67 L380 354.99 L380.5 355.47 L381 356.11 L381.5 356.89 L382 357.81 L382.5 358.85 L383 360 L383.5 361.24 L384 362.55 L384.5 363.91 L385 365.31 L385.5 366.71 L386 368.11 L386.5 369.48 L387 370.8 L387.5 372.06 L388 373.22 L388.5 374.29 L389 375.23 L389.5 376.05 L390 376.72 L390.5 377.23 L391 377.58 L391.5 377.77 L392 377.79 L392.5 377.63 L393 377.31 L393.5 376.83 L394 376.19 L394.5 375.41 L395 374.49 L395.5 373.45 L396 372.3 L396.5 371.06 L397 369.75 L397.5 368.39 L398 366.99 L398.5 365.59 L399 364.19 L399.5 362.82 L400 361.5 L400.5 360.24 L401 359.08 L401.5 358.01 L402 357.07 L402.5 356.25 L403 355.58 L403.5 355.07 L404 354.72 L404.5 354.53 L405 354.51 L405.5 354.67 L406 354.99 L406.5 355.47 L407 356.11 L407.5 356.89 L408 357.81 L408.5 358.85 L409 360 L409.5 361.24 L410 362.55 L410.5 363.91 L411 365.31 L411.5 366.71 L412 368.11 L412.5 369.48 L413 370.8 L413.5 372.06 L414 373.22 L414.5 374.29 L415 375.23 L415.5 376.05 L416 376.72 L416.5 377.23 L417 377.58 L417.5 377.77 L418 377.79 L418.5 377.63 L419 377.31 L419.5 376.83 L420 376.19 L420.5 375.41 L421 374.49 L421.5 373.45 L422 372.3 L422.5 371.06 L423 369.75 L423.5 368.39 L424 366.99 L424.5 365.59 L425 364.19 L425.5 362.82 L426 361.5 L426.5 360.24 L427 359.08 L427.5 358.01 L428 357.07 L428.5 356.25 L429 355.58 L429.5 355.07 L430 354.72 L430.5 354.53 L431 354.51 L431.5 354.67 L432 354.99 L432.5 355.47 L433 356.11 L433.5 356.89 L434 357.81 L434.5 358.85 L435 360 L435.5 361.24 L436 362.55 L436.5 363.91 L437 365.31 L437.5 366.71 L438 368.11 L438.5 369.48 L439 370.8 L439.5 372.06 L440 373.22 L440.5 374.29 L441 375.23 L441.5 376.05 L442 376.72 L442.5 377.23 L443 377.58 L443.5 377.77 L444 377.79 L444.5 377.63 L445 377.31 L445.5 376.83 L446 376.19 L446.5 375.41 L447 374.49 L447.5 373.45 L448 372.3 L448.5 371.06 L449 369.75 L449.5 368.39 L450 366.99 L450.5 365.59 L451 364.19 L451.5 362.82 L452 361.5 L452.5 360.24 L453 359.08 L453.5 358.01 L454 357.07 L454.5 356.25 L455 355.58 L455.5 355.07 L456 354.72 L456.5 354.53 L457 354.51 L457.5 354.67 L458 354.99 L458.5 355.47 L459 356.11 L459.5 356.89 L460 357.81 L460.5 358.85 L461 360 L461.5 361.24 L462 362.55 L462.5 363.91 L463 365.31 L463.5 366.71 L464 368.11 L464.5 369.48 L465 370.8 L465.5 372.06 L466 373.22 L466.5 374.29 L467 375.23 L467.5 376.05 L468 376.72 L468.5 377.23 L469 377.58 L469.5 377.77 L470 377.79 L470.5 377.63 L471 377.31 L471.5 376.83 L472 376.19 L472.5 375.41 L473 374.49 L473.5 373.45 L474 372.3 L474.5 371.06 L475 369.75 L475.5 368.39 L476 366.99 L476.5 365.59 L477 364.19 L477.5 362.82 L478 361.5 L478.5 360.24 L479 359.08 L479.5 358.01 L480 357.07 L480.5 356.25 L481 355.58 L481.5 355.07 L482 354.72 L482.5 354.53 L483 354.51 L483.5 354.67 L484 354.99 L484.5 355.47 L485 356.11 L485.5 356.89 L486 357.81 L486.5 358.85 L487 360 L487.5 361.24 L488 362.55 L488.5 363.91 L489 365.31 L489.5 366.71 L490 368.11 L490.5 369.48 L491 370.8 L491.5 372.06 L492 373.22 L492.5 374.29 L493 375.23 L493.5 376.05 L494 376.72 L494.5 377.23 L495 377.58 L495.5 377.77 L496 377.79 L496.5 377.63 L497 377.31 L497.5 376.83 L498 376.19 L498.5 375.41 L499 374.49 L499.5 373.45 L500 372.3 L500.5 371.06 L501 369.75 L501.5 368.39 L502 366.99 L502.5 365.59 L503 364.19 L503.5 362.82 L504 361.5 L504.5 360.24 L505 359.08 L505.5 358.01 L506 357.07 L506.5 356.25 L507 355.58 L507.5 355.07 L508 354.72 L508.5 354.53 L509 354.51 L509.5 354.67 L510 354.99 L510.5 355.47 L511 356.11 L511.5 356.89 L512 357.81 L512.5 358.85 L513 360 L513.5 361.24 L514 362.55 L514.5 363.91 L515 365.31 L515.5 366.71 L516 368.11 L516.5 369.48 L517 370.8 L517.5 372.06 L518 373.22 L518.5 374.29 L519 375.23 L519.5 376.05 L520 376.72 L520.5 377.23 L521 377.58 L521.5 377.77 L522 377.79 L522.5 377.63 L523 377.31 L523.5 376.83 L524 376.19 L524.5 375.41 L525 374.49 L525.5 373.45 L526 372.3 L526.5 371.06 L527 369.75 L527.5 368.39 L528 366.99 L528.5 365.59 L529 364.19 L529.5 362.82 L530 361.5 L530.5 360.24 L531 359.08 L531.5 358.01 L532 357.07 L532.5 356.25 L533 355.58" fill="none" stroke="#4a4a4a" stroke-width="1.3" stroke-linejoin="round" stroke-linecap="butt" stroke-dasharray="1.7 1.1"/>
<path d="M361.5 417.01 L362 418.2 L362.5 419.28 L363 420.23 L363.5 421.05 L364 421.73 L364.5 422.24 L365 422.59 L365.5 422.77 L366 422.78 L366.5 422.62 L367 422.28 L367.5 421.78 L368 421.13 L368.5 420.32 L369 419.38 L369.5 418.31 L370 417.14 L370.5 415.87 L371 414.54 L371.5 413.15 L372 411.72 L372.5 410.29 L373 408.87 L373.5 407.47 L374 406.12 L374.5 404.85 L375 403.66 L375.5 402.57 L376 401.61 L376.5 400.78 L377 400.1 L377.5 399.58 L378 399.22 L378.5 399.03 L379 399.01 L379.5 399.17 L380 399.49 L380.5 399.99 L381 400.64 L381.5 401.44 L382 402.37 L382.5 403.43 L383 404.6 L383.5 405.86 L384 407.2 L384.5 408.58 L385 410 L385.5 411.44 L386 412.86 L386.5 414.26 L387 415.61 L387.5 416.89 L388 418.08 L388.5 419.17 L389 420.14 L389.5 420.98 L390 421.67 L390.5 422.2 L391 422.57 L391.5 422.76 L392 422.79 L392.5 422.64 L393 422.33 L393.5 421.84 L394 421.2 L394.5 420.41 L395 419.48 L395.5 418.42 L396 417.26 L396.5 416 L397 414.67 L397.5 413.29 L398 411.87 L398.5 410.43 L399 409.01 L399.5 407.61 L400 406.26 L400.5 404.97 L401 403.77 L401.5 402.68 L402 401.7 L402.5 400.86 L403 400.17 L403.5 399.63 L404 399.25 L404.5 399.04 L405 399.01 L405.5 399.15 L406 399.45 L406.5 399.93 L407 400.56 L407.5 401.35 L408 402.27 L408.5 403.32 L409 404.48 L409.5 405.73 L410 407.06 L410.5 408.44 L411 409.86 L411.5 411.29 L412 412.72 L412.5 414.12 L413 415.48 L413.5 416.77 L414 417.97 L414.5 419.07 L415 420.05 L415.5 420.9 L416 421.6 L416.5 422.15 L417 422.54 L417.5 422.75 L418 422.79 L418.5 422.67 L419 422.36 L419.5 421.9 L420 421.27 L420.5 420.49 L421 419.58 L421.5 418.53 L422 417.38 L422.5 416.13 L423 414.81 L423.5 413.43 L424 412.01 L424.5 410.58 L425 409.15 L425.5 407.75 L426 406.39 L426.5 405.1 L427 403.89 L427.5 402.78 L428 401.79 L428.5 400.94 L429 400.23 L429.5 399.67 L430 399.28 L430.5 399.06 L431 399 L431.5 399.12 L432 399.42 L432.5 399.88 L433 400.49 L433.5 401.26 L434 402.17 L434.5 403.21 L435 404.36 L435.5 405.6 L436 406.92 L436.5 408.3 L437 409.72 L437.5 411.15 L438 412.58 L438.5 413.99 L439 415.35 L439.5 416.64 L440 417.85 L440.5 418.97 L441 419.96 L441.5 420.82 L442 421.54 L442.5 422.1 L443 422.51 L443.5 422.74 L444 422.8 L444.5 422.69 L445 422.4 L445.5 421.95 L446 421.34 L446.5 420.58 L447 419.67 L447.5 418.64 L448 417.5 L448.5 416.26 L449 414.94 L449.5 413.57 L450 412.15 L450.5 410.72 L451 409.29 L451.5 407.88 L452 406.52 L452.5 405.22 L453 404 L453.5 402.89 L454 401.89 L454.5 401.02 L455 400.29 L455.5 399.72 L456 399.31 L456.5 399.07 L457 399 L457.5 399.1 L458 399.38 L458.5 399.82 L459 400.43 L459.5 401.18 L460 402.08 L460.5 403.1 L461 404.24 L461.5 405.48 L462 406.79 L462.5 408.16 L463 409.58 L463.5 411.01 L464 412.44 L464.5 413.85 L465 415.21 L465.5 416.52 L466 417.74 L466.5 418.86 L467 419.87 L467.5 420.74 L468 421.48 L468.5 422.05 L469 422.47 L469.5 422.72 L470 422.8 L470.5 422.7 L471 422.44 L471.5 422 L472 421.41 L472.5 420.66 L473 419.77 L473.5 418.75 L474 417.62 L474.5 416.39 L475 415.08 L475.5 413.71 L476 412.3 L476.5 410.86 L477 409.43 L477.5 408.02 L478 406.65 L478.5 405.35 L479 404.12 L479.5 402.99 L480 401.98 L480.5 401.1 L481 400.36 L481.5 399.77 L482 399.34 L482.5 399.09 L483 399 L483.5 399.09 L484 399.34 L484.5 399.77 L485 400.36 L485.5 401.1 L486 401.98 L486.5 402.99 L487 404.12 L487.5 405.35 L488 406.65 L488.5 408.02 L489 409.43 L489.5 410.86 L490 412.3 L490.5 413.71 L491 415.08 L491.5 416.39 L492 417.62 L492.5 418.75 L493 419.77 L493.5 420.66 L494 421.41 L494.5 422 L495 422.44 L495.5 422.7 L496 422.8 L496.5 422.72 L497 422.47 L497.5 422.05 L498 421.48 L498.5 420.74 L499 419.87 L499.5 418.86 L500 417.74 L500.5 416.52 L501 415.21 L501.5 413.85 L502 412.44 L502.5 411.01 L503 409.58 L503.5 408.16 L504 406.79 L504.5 405.48 L505 404.24 L505.5 403.1 L506 402.08 L506.5 401.18 L507 400.43 L507.5 399.82 L508 399.38 L508.5 399.1 L509 399 L509.5 399.07 L510 399.31 L510.5 399.72 L511 400.29 L511.5 401.02 L512 401.89 L512.5 402.89 L513 404 L513.5 405.22 L514 406.52 L514.5 407.88 L515 409.29 L515.5 410.72 L516 412.15 L516.5 413.57 L517 414.94 L517.5 416.26 L518 417.5 L518.5 418.64 L519 419.67 L519.5 420.58 L520 421.34 L520.5 421.95 L521 422.4 L521.5 422.69 L522 422.8 L522.5 422.74 L523 422.51 L523.5 422.1 L524 421.54 L524.5 420.82 L525 419.96 L525.5 418.97 L526 417.85 L526.5 416.64 L527 415.35 L527.5 413.99 L528 412.58 L528.5 411.15 L529 409.72 L529.5 408.3 L530 406.92 L530.5 405.6 L531 404.36 L531.5 403.21 L532 402.17 L532.5 401.26 L533 400.49" fill="none" stroke="#4a4a4a" stroke-width="1.3" stroke-linejoin="round" stroke-linecap="butt" stroke-dasharray="1.7 1.1"/>
<path d="M372.1 242.9 L370.4 290.4" fill="none" stroke="#000" stroke-width="1.6" stroke-linejoin="round" stroke-linecap="butt" />
<path d="M382.9 242.9 L384 290.4" fill="none" stroke="#000" stroke-width="1.6" stroke-linejoin="round" stroke-linecap="butt" />
<path d="M401.3 242.9 L399.2 290.4" fill="none" stroke="#000" stroke-width="1.6" stroke-linejoin="round" stroke-linecap="butt" />
<path d="M407.2 242.9 L410.3 290.4" fill="none" stroke="#000" stroke-width="1.6" stroke-linejoin="round" stroke-linecap="butt" />
<path d="M423.4 291.1 L423.93 290.56 L424.46 288.96 L424.99 286.39 L425.51 282.97 L426.04 278.87 L426.57 274.31 L427.1 269.5 L427.63 264.69 L428.16 260.13 L428.69 256.03 L429.21 252.61 L429.74 250.04 L430.27 248.44 L430.8 247.9 L431.32 248.09 L431.83 248.64 L432.35 249.56 L432.87 250.82 L433.39 252.4 L433.9 254.26 L434.42 256.39 L434.94 258.73 L435.46 261.24 L435.97 263.87 L436.49 266.58 L437.01 269.32 L437.53 272.03 L438.04 274.66 L438.56 277.17 L439.08 279.51 L439.6 281.64 L440.11 283.5 L440.63 285.08 L441.15 286.34 L441.67 287.26 L442.18 287.81 L442.7 288 L443.2 287.89 L443.71 287.56 L444.21 287.02 L444.72 286.27 L445.22 285.33 L445.72 284.2 L446.23 283.79 L446.73 281.45 L447.23 278.87 L447.74 277.16 L448.24 276.5 L448.75 274.61 L449.25 272.46 L449.75 270.29 L450.26 268.94 L450.76 267.14 L451.27 266.63 L451.77 263.23 L452.27 263.44 L452.78 262.34 L453.28 259.64 L453.78 260.47 L454.29 259.25 L454.79 259.12 L455.3 257.45 L455.8 257.52 L456.3 257.64 L456.81 259.21 L457.31 258.7 L457.82 258.73 L458.32 259.55 L458.82 260.02 L459.33 260.43 L459.83 261.57 L460.34 264.28 L460.84 264.24 L461.34 266.88 L461.85 266.62 L462.35 267.91 L462.86 269.7 L463.36 270.21 L463.86 271.78 L464.37 274.16 L464.87 275.02 L465.38 275.78 L465.88 276.18 L466.38 277.47 L466.89 278.07 L467.39 277.59 L467.9 278.2 L468.4 276.81 L468.9 278.26 L469.41 277.49 L469.91 277.9 L470.41 277.31 L470.92 276.08 L471.42 275.03 L471.92 276.36 L472.43 273.91 L472.93 273.92 L473.43 272.83 L473.94 271.88 L474.44 271.95 L474.94 271.56 L475.45 269.04 L475.95 268.97 L476.46 267.25 L476.96 266.9 L477.46 265.65 L477.97 264.29 L478.47 263.47 L478.97 262.83 L479.48 263.68 L479.98 262.17 L480.48 261.03 L480.99 262.1 L481.49 261.95 L481.99 260.49 L482.5 259.66 L483 259.72 L483.5 259.55 L484.01 260.23 L484.51 259.91 L485.02 260.54 L485.52 260.98 L486.02 262.13 L486.53 263.35 L487.03 263.64 L487.54 263.54 L488.04 264.22 L488.54 265.17 L489.05 265.56 L489.55 266.21 L490.06 266.32 L490.56 267.5 L491.06 269.7 L491.57 268.48 L492.07 269.9 L492.58 270.71 L493.08 271.69 L493.58 270.66 L494.09 271.09 L494.59 271.26 L495.1 271.73 L495.6 271.88 L496.1 272.97 L496.61 272.64 L497.11 272.55 L497.61 270.46 L498.12 270.22 L498.62 271.4 L499.13 271.44 L499.63 270.11 L500.13 269.92 L500.64 268.15 L501.14 268.52 L501.64 269.18 L502.15 268.43 L502.65 267.97 L503.16 267.7 L503.66 265.59 L504.16 264.79 L504.67 264.41 L505.17 264.78 L505.67 264.73 L506.18 264.94 L506.68 264.14 L507.19 263.71 L507.69 263.76 L508.19 262.93 L508.7 263.04 L509.2 261.89 L509.7 263.54 L510.2 262.4 L510.7 264.03 L511.2 263.58 L511.7 263.02 L512.2 262.87 L512.7 263.41 L513.2 264.56 L513.7 265.03 L514.2 264.09 L514.7 264.38 L515.2 265.77 L515.7 266.31 L516.2 266.3 L516.7 266.35 L517.2 267.6 L517.7 266.7 L518.2 267.74 L518.7 268.47 L519.2 269.92 L519.7 269.56 L520.2 270.39 L520.7 269.76 L521.2 269.47 L521.7 269.69 L522.2 271.41 L522.7 270.96 L523.2 270.15 L523.7 269.55 L524.2 270.58 L524.71 270.92 L525.21 270.28 L525.71 269.82 L526.22 270.58 L526.72 270.98 L527.22 269.26 L527.73 268.62 L528.23 269.06 L528.73 268.99 L529.24 269.3 L529.74 267.96 L530.24 268.99 L530.75 268.57 L531.25 267.76 L531.76 266.81 L532.26 268.21 L532.76 266.49 L533.27 267.34 L533.77 265.79 L534.27 265.54 L534.78 266.51 L535.28 265.3 L535.78 266.58 L536.29 265.44 L536.79 264.65 L537.29 264.65 L537.8 265.03 L538.3 265.56 L538.81 266.21 L539.32 264.52 L539.83 265.19 L540.34 264.97 L540.85 266.86 L541.36 265.27 L541.87 265.35 L542.38 265.67 L542.89 266.71 L543.41 268.13 L543.92 268.41 L544.43 268.38 L544.94 269.23 L545.45 269.34 L545.96 268.22 L546.47 268.08 L546.98 269.86 L547.49 269.52 L548 267.97 L548.52 269.38 L549.05 268.82 L549.57 268.91 L550.09 268.95 L550.62 268.76 L551.14 268.57 L551.66 269.36 L552.18 269.69 L552.71 271.18 L553.23 269.48 L553.75 271.44 L554.28 269.83 L554.8 270.5" fill="none" stroke="#000" stroke-width="1.5" stroke-linejoin="round" stroke-linecap="round" />
<path d="M364.7 327.6 L365.21 327.44 L365.73 326.95 L366.24 326.16 L366.75 325.06 L367.27 323.69 L367.78 322.06 L368.29 320.21 L368.8 318.18 L369.32 315.99 L369.83 313.7 L370.34 311.34 L370.86 308.96 L371.37 306.6 L371.88 304.31 L372.4 302.12 L372.91 300.09 L373.42 298.24 L373.93 296.61 L374.45 295.24 L374.96 294.14 L375.47 293.35 L375.99 292.86 L376.5 292.7 L377.01 292.83 L377.52 293.24 L378.03 293.9 L378.54 294.82 L379.06 295.98 L379.57 297.37 L380.08 298.96 L380.59 300.74 L381.1 302.68 L381.61 304.75 L382.12 306.93 L382.63 309.19 L383.14 311.49 L383.66 313.81 L384.17 316.11 L384.68 318.37 L385.19 320.55 L385.7 322.62 L386.21 324.56 L386.72 326.34 L387.23 327.93 L387.74 329.32 L388.26 330.48 L388.77 331.4 L389.28 332.06 L389.79 332.47 L390.3 332.6 L390.81 332.5 L391.32 332.21 L391.82 331.73 L392.33 331.07 L392.84 330.24 L393.35 329.24 L393.85 328.1 L394.36 326.83 L394.87 325.45 L395.38 323.98 L395.88 322.44 L396.39 320.86 L396.9 319.25 L397.41 317.64 L397.92 316.06 L398.42 314.52 L398.93 313.05 L399.44 311.67 L399.95 310.4 L400.45 309.26 L400.96 308.26 L401.47 307.43 L401.98 306.77 L402.48 306.29 L402.99 306 L403.5 305.9 L404 305.98 L404.5 306.2 L405 306.58 L405.5 307.09 L406 307.74 L406.5 308.5 L407 309.37 L407.5 310.33 L408 311.35 L408.5 312.43 L409 313.54 L409.5 314.66 L410 315.77 L410.5 316.85 L411 317.87 L411.5 318.83 L412 319.7 L412.5 320.46 L413 321.11 L413.5 321.62 L414 322 L414.5 322.22 L415 322.3 L415.5 322.26 L416 322.13 L416.5 321.92 L417 321.63 L417.5 321.26 L418 320.82 L418.5 320.31 L419 319.74 L419.5 319.11 L420 318.43 L420.5 317.7 L421 316.94 L421.5 316.16 L422 315.36 L422.5 314.55 L423 313.74 L423.5 312.94 L424 312.16 L424.5 311.4 L425 310.68 L425.5 309.99 L426 309.36 L426.5 308.79 L427 308.28 L427.5 307.84 L428 307.47 L428.5 307.18 L429 306.97 L429.5 306.84 L430 306.8 L430.51 306.86 L431.02 307.05 L431.54 307.36 L432.05 307.78 L432.56 308.31 L433.07 308.94 L433.59 309.66 L434.1 310.45 L434.61 311.31 L435.12 312.21 L435.64 313.15 L436.15 314.1 L436.66 315.05 L437.18 315.99 L437.69 316.89 L438.2 317.75 L438.71 318.54 L439.23 319.26 L439.74 319.89 L440.25 320.42 L440.76 320.84 L441.28 321.15 L441.79 321.34 L442.3 321.4 L442.81 321.35 L443.31 321.21 L443.82 320.98 L444.33 320.65 L444.83 320.24 L445.34 319.75 L445.85 319.18 L446.35 318.54 L446.86 317.83 L447.36 317.07 L447.87 316.25 L448.38 315.4 L448.88 314.51 L449.39 313.59 L449.9 312.67 L450.4 311.73 L450.91 310.81 L451.42 309.89 L451.92 309 L452.43 308.15 L452.94 307.33 L453.44 306.57 L453.95 305.86" fill="none" stroke="#111" stroke-width="1.6" stroke-linejoin="round" stroke-linecap="round" />
<path d="M458.1 286.6 L458.61 288.24 L459.13 290.1 L459.64 292.14 L460.15 294.36 L460.67 296.74 L461.18 299.24 L461.7 301.84 L462.21 304.51 L462.72 307.21 L463.24 309.9 L463.75 312.55 L464.26 315.13 L464.78 317.59 L465.29 319.9 L465.8 322.03 L466.32 323.95 L466.83 325.62 L467.35 327.02 L467.86 328.14 L468.37 328.95 L468.89 329.44 L469.4 329.6 L469.91 329.43 L470.41 328.92 L470.92 328.08 L471.43 326.92 L471.94 325.45 L472.44 323.7 L472.95 321.68 L473.46 319.42 L473.96 316.94 L474.47 314.29 L474.98 311.48 L475.49 308.57 L475.99 305.58 L476.5 302.55 L477.01 299.52 L477.51 296.53 L478.02 293.62 L478.53 290.81 L479.04 288.16 L479.54 285.68 L480.05 283.42 L480.56 281.4 L481.06 279.65 L481.57 278.18 L482.08 277.02 L482.59 276.18 L483.09 275.67 L483.6 275.5 L484.1 275.75 L484.6 276.51 L485.1 277.76 L485.6 279.48 L486.1 281.65 L486.6 284.24 L487.1 287.21 L487.6 290.51 L488.1 294.1 L488.6 297.93 L489.1 301.93 L489.6 306.06 L490.1 310.25 L490.6 314.44 L491.1 318.57 L491.6 322.57 L492.1 326.4 L492.6 329.99 L493.1 333.29 L493.6 336.26 L494.1 338.85 L494.6 341.02 L495.1 342.74 L495.6 343.99 L496.1 344.75 L496.6 345 L497.11 344.79 L497.63 344.17 L498.14 343.14 L498.66 341.72 L499.17 339.92 L499.69 337.78 L500.2 335.32 L500.72 332.57 L501.23 329.57 L501.75 326.37 L502.26 323 L502.78 319.51 L503.29 315.94 L503.81 312.36 L504.32 308.79 L504.84 305.3 L505.35 301.93 L505.87 298.73 L506.38 295.73 L506.9 292.98 L507.41 290.52 L507.93 288.38 L508.44 286.58 L508.96 285.16 L509.47 284.13 L509.99 283.51 L510.5 283.3 L511.01 283.5 L511.52 284.1 L512.02 285.08 L512.53 286.44 L513.04 288.16 L513.55 290.2 L514.05 292.55 L514.56 295.16 L515.07 297.99 L515.58 301.02 L516.08 304.18 L516.59 307.44 L517.1 310.75 L517.61 314.06 L518.12 317.32 L518.62 320.48 L519.13 323.51 L519.64 326.34 L520.15 328.95 L520.65 331.3 L521.16 333.34 L521.67 335.06 L522.18 336.42 L522.68 337.4 L523.19 338 L523.7 338.2 L524.2 338.07 L524.71 337.68 L525.21 337.04 L525.71 336.16 L526.22 335.04 L526.72 333.69 L527.22 332.14 L527.73 330.39 L528.23 328.47 L528.73 326.4 L529.24 324.2 L529.74 321.89 L530.24 319.51 L530.75 317.07 L531.25 314.6 L531.75 312.13 L532.26 309.69 L532.76 307.31 L533.26 305 L533.77 302.8 L534.27 300.73 L534.77 298.81 L535.28 297.06 L535.78 295.51 L536.28 294.16 L536.79 293.04 L537.29 292.16 L537.79 291.52 L538.3 291.13 L538.8 291 L539.3 291.21 L539.81 291.84 L540.31 292.87 L540.82 294.29 L541.32 296.06 L541.83 298.14 L542.33 300.51 L542.84 303.1 L543.34 305.87 L543.85 308.75 L544.35 311.7 L544.85 314.65 L545.36 317.53 L545.86 320.3 L546.37 322.89 L546.87 325.26 L547.38 327.34 L547.88 329.11 L548.39 330.53 L548.89 331.56 L549.4 332.19 L549.9 332.4 L550.46 332.3 L551.01 332.02 L551.57 331.62 L552.13 331.18 L552.69 330.78 L553.24 330.5 L553.8 330.4" fill="none" stroke="#111" stroke-width="1.6" stroke-linejoin="round" stroke-linecap="round" />
<path d="M364.7 379.4 L365.2 379.29 L365.71 378.96 L366.21 378.41 L366.71 377.65 L367.22 376.69 L367.72 375.55 L368.23 374.23 L368.73 372.75 L369.23 371.14 L369.74 369.41 L370.24 367.58 L370.74 365.68 L371.25 363.73 L371.75 361.75 L372.25 359.77 L372.76 357.82 L373.26 355.92 L373.76 354.09 L374.27 352.36 L374.77 350.75 L375.27 349.27 L375.78 347.95 L376.28 346.81 L376.79 345.85 L377.29 345.09 L377.79 344.54 L378.3 344.21 L378.8 344.1 L379.32 344.27 L379.83 344.79 L380.35 345.65 L380.87 346.82 L381.38 348.29 L381.9 350.05 L382.42 352.04 L382.93 354.25 L383.45 356.63 L383.97 359.15 L384.48 361.75 L385 364.4 L385.52 367.05 L386.03 369.65 L386.55 372.17 L387.07 374.55 L387.58 376.76 L388.1 378.75 L388.62 380.51 L389.13 381.98 L389.65 383.15 L390.17 384.01 L390.68 384.53 L391.2 384.7 L391.7 384.61 L392.21 384.32 L392.71 383.86 L393.21 383.22 L393.72 382.4 L394.22 381.43 L394.72 380.3 L395.23 379.04 L395.73 377.66 L396.23 376.17 L396.74 374.59 L397.24 372.94 L397.74 371.25 L398.25 369.52 L398.75 367.78 L399.26 366.05 L399.76 364.36 L400.26 362.71 L400.77 361.13 L401.27 359.64 L401.77 358.26 L402.28 357 L402.78 355.87 L403.28 354.9 L403.79 354.08 L404.29 353.44 L404.79 352.98 L405.3 352.69 L405.8 352.6 L406.3 352.69 L406.8 352.96 L407.3 353.41 L407.8 354.02 L408.3 354.79 L408.8 355.7 L409.3 356.75 L409.8 357.9 L410.3 359.14 L410.8 360.46 L411.3 361.82 L411.8 363.2 L412.3 364.58 L412.8 365.94 L413.3 367.26 L413.8 368.5 L414.3 369.65 L414.8 370.7 L415.3 371.61 L415.8 372.38 L416.3 372.99 L416.8 373.44 L417.3 373.71 L417.8 373.8 L418.32 373.69 L418.84 373.38 L419.36 372.89 L419.88 372.28 L420.4 371.6 L420.92 370.92 L421.44 370.31 L421.96 369.82 L422.48 369.51 L423 369.4" fill="none" stroke="#111" stroke-width="1.6" stroke-linejoin="round" stroke-linecap="round" />
<path d="M427.3 334.7 L429.5 345 L431.7 354.2 L433.8 361 L436 366.5 L438.5 371 L441 374.6 L443 376.4 L443.52 376.11 L444.04 375.23 L444.56 373.79 L445.08 371.83 L445.6 369.39 L446.12 366.53 L446.64 363.32 L447.16 359.85 L447.68 356.2 L448.2 352.45 L448.72 348.7 L449.24 345.05 L449.76 341.58 L450.28 338.37 L450.8 335.51 L451.32 333.07 L451.84 331.11 L452.36 329.67 L452.88 328.79 L453.4 328.5 L453.9 328.69 L454.41 329.25 L454.91 330.18 L455.41 331.46 L455.92 333.08 L456.42 335.01 L456.92 337.24 L457.43 339.74 L457.93 342.47 L458.44 345.4 L458.94 348.49 L459.44 351.71 L459.95 355.01 L460.45 358.35 L460.95 361.69 L461.46 364.99 L461.96 368.21 L462.46 371.3 L462.97 374.23 L463.47 376.96 L463.98 379.46 L464.48 381.69 L464.98 383.62 L465.49 385.24 L465.99 386.52 L466.49 387.45 L467 388.01 L467.5 388.2 L468 388.05 L468.5 387.62 L469 386.9 L469.5 385.91 L470 384.66 L470.5 383.15 L471 381.42 L471.5 379.47 L472 377.34 L472.5 375.04 L473 372.61 L473.5 370.07 L474 367.45 L474.5 364.79 L475 362.11 L475.5 359.45 L476 356.83 L476.5 354.29 L477 351.86 L477.5 349.56 L478 347.43 L478.5 345.48 L479 343.75 L479.5 342.24 L480 340.99 L480.5 340 L481 339.28 L481.5 338.85 L482 338.7 L482.5 338.86 L483 339.35 L483.5 340.15 L484 341.25 L484.5 342.65 L485 344.31 L485.5 346.21 L486 348.33 L486.5 350.64 L487 353.09 L487.5 355.66 L488 358.31 L488.5 361 L489 363.69 L489.5 366.34 L490 368.91 L490.5 371.36 L491 373.67 L491.5 375.79 L492 377.69 L492.5 379.35 L493 380.75 L493.5 381.85 L494 382.65 L494.5 383.14 L495 383.3 L495.51 383.17 L496.01 382.79 L496.52 382.16 L497.03 381.28 L497.54 380.18 L498.04 378.86 L498.55 377.34 L499.06 375.64 L499.56 373.78 L500.07 371.78 L500.58 369.67 L501.09 367.48 L501.59 365.23 L502.1 362.95 L502.61 360.67 L503.11 358.42 L503.62 356.23 L504.13 354.12 L504.64 352.12 L505.14 350.26 L505.65 348.56 L506.16 347.04 L506.66 345.72 L507.17 344.62 L507.68 343.74 L508.19 343.11 L508.69 342.73 L509.2 342.6 L509.7 342.73 L510.2 343.14 L510.7 343.8 L511.2 344.72 L511.7 345.87 L512.2 347.26 L512.7 348.84 L513.2 350.62 L513.7 352.55 L514.2 354.62 L514.7 356.79 L515.2 359.04 L515.7 361.34 L516.2 363.66 L516.7 365.96 L517.2 368.21 L517.7 370.38 L518.2 372.45 L518.7 374.38 L519.2 376.16 L519.7 377.74 L520.2 379.13 L520.7 380.28 L521.2 381.2 L521.7 381.86 L522.2 382.27 L522.7 382.4 L523.2 382.28 L523.71 381.92 L524.21 381.32 L524.71 380.49 L525.22 379.45 L525.72 378.2 L526.23 376.77 L526.73 375.17 L527.23 373.43 L527.74 371.56 L528.24 369.6 L528.74 367.57 L529.25 365.49 L529.75 363.41 L530.26 361.33 L530.76 359.3 L531.26 357.34 L531.77 355.48 L532.27 353.73 L532.77 352.13 L533.28 350.7 L533.78 349.45 L534.29 348.41 L534.79 347.58 L535.29 346.98 L535.8 346.62 L536.3 346.5 L536.8 346.63 L537.3 347.02 L537.8 347.67 L538.3 348.56 L538.8 349.68 L539.3 351.01 L539.8 352.54 L540.3 354.23 L540.8 356.06 L541.3 358 L541.8 360.03 L542.3 362.1 L542.8 364.2 L543.3 366.27 L543.8 368.3 L544.3 370.24 L544.8 372.07 L545.3 373.76 L545.8 375.29 L546.3 376.62 L546.8 377.74 L547.3 378.63 L547.8 379.28 L548.3 379.67 L548.8 379.8" fill="none" stroke="#111" stroke-width="1.6" stroke-linejoin="round" stroke-linecap="round" />
<path d="M356.8 383.2 L357.32 384.67 L357.84 386.5 L358.35 388.68 L358.87 391.17 L359.39 393.94 L359.91 396.94 L360.42 400.09 L360.94 403.35 L361.46 406.65 L361.98 409.91 L362.49 413.06 L363.01 416.06 L363.53 418.83 L364.05 421.32 L364.56 423.5 L365.08 425.33 L365.6 426.8 L366.11 425.51 L366.61 424.09 L367.12 422.54 L367.63 420.87 L368.14 419.09 L368.64 417.21 L369.15 415.24 L369.66 413.21 L370.17 411.12 L370.67 409 L371.18 406.87 L371.69 404.73 L372.2 402.62 L372.7 400.54 L373.21 398.53 L373.72 396.59 L374.23 394.75 L374.73 393.03 L375.24 391.43 L375.75 389.99 L376.26 388.71 L376.76 387.6 L377.27 386.67 L377.78 385.95 L378.29 385.42 L378.79 385.11 L379.3 385 L379.82 385.18 L380.33 385.7 L380.85 386.57 L381.37 387.76 L381.89 389.25 L382.4 391.02 L382.92 393.02 L383.44 395.23 L383.96 397.6 L384.47 400.09 L384.99 402.66 L385.51 405.24 L386.03 407.81 L386.54 410.3 L387.06 412.67 L387.58 414.88 L388.1 416.88 L388.61 418.65 L389.13 420.14 L389.65 421.33 L390.17 422.2 L390.68 422.72 L391.2 422.9 L391.71 422.81 L392.23 422.52 L392.74 422.06 L393.25 421.42 L393.77 420.62 L394.28 419.68 L394.79 418.6 L395.3 417.42 L395.82 416.15 L396.33 414.82 L396.84 413.44 L397.36 412.06 L397.87 410.68 L398.38 409.35 L398.9 408.08 L399.41 406.9 L399.92 405.82 L400.43 404.88 L400.95 404.08 L401.46 403.44 L401.97 402.98 L402.49 402.69 L403 402.6 L403.51 402.67 L404.02 402.86 L404.53 403.18 L405.04 403.61 L405.55 404.15 L406.06 404.78 L406.57 405.49 L407.08 406.26 L407.59 407.07 L408.1 407.9 L408.61 408.73 L409.12 409.54 L409.63 410.31 L410.14 411.02 L410.65 411.65 L411.16 412.19 L411.67 412.62 L412.18 412.94 L412.69 413.13 L413.2 413.2" fill="none" stroke="#111" stroke-width="1.6" stroke-linejoin="round" stroke-linecap="round" />
<path d="M420.3 416.18 L420.8 417.19 L421.3 417.13 L421.81 416.17 L422.31 415.18 L422.81 415.93 L423.31 415.49 L423.82 416.43 L424.32 414.54 L424.82 414.59 L425.32 415.4 L425.83 413.1 L426.33 413.52 L426.83 413.95 L427.33 413.39 L427.84 411.3 L428.34 410.78 L428.84 410.32 L429.34 411.67 L429.85 409.67 L430.35 410.2 L430.85 409.98 L431.35 408.19 L431.85 407.5 L432.36 408.46 L432.86 407.18 L433.36 405.87 L433.86 406.37 L434.37 405 L434.87 404.44 L435.37 403.39 L435.87 404.63 L436.38 404.59 L436.88 403.61 L437.38 403.96 L437.88 401.64 L438.39 401.85 L438.89 402.16 L439.39 403.03 L439.89 402.88 L440.4 401.53 L440.9 401.17 L441.4 401.55 L441.9 401.75 L442.4 402.91 L442.9 401.6 L443.4 403.42 L443.9 403.85 L444.4 404.71 L444.9 405.37 L445.4 405.85 L445.9 406.14 L446.4 407.08 L446.9 408.15 L447.4 410.07 L447.9 409.5 L448.4 410.71 L448.9 412.84 L449.4 412.58 L449.9 412.94 L450.4 413.55 L450.9 415.26 L451.4 415.22 L451.9 416.99 L452.4 416.98 L452.9 417.27 L453.4 415.65 L453.91 415.15 L454.41 415.02 L454.91 415.67 L455.42 415.85 L455.92 414.93 L456.42 414.07 L456.93 414.02 L457.43 413.99 L457.93 413.58 L458.44 413.19 L458.94 412.82 L459.44 411.83 L459.95 410.02 L460.45 410.99 L460.96 409.18 L461.46 409.19 L461.96 408.18 L462.47 408.43 L462.97 406.72 L463.47 406.34 L463.98 405.89 L464.48 405.29 L464.98 406.55 L465.49 405.59 L465.99 404.81 L466.49 404.8 L467 406.02 L467.5 404.92 L468 404.35 L468.5 405.72 L469 405.56 L469.5 406.55 L470 404.91 L470.5 406.1 L471 407.28 L471.5 407.8 L472 408.49 L472.5 407.12 L473 408.26 L473.5 408.48 L474 409.26 L474.5 411.6 L475 411.36 L475.5 412.73 L476 412.09 L476.5 413.73 L477 413.33 L477.5 413.39 L478 414.96 L478.5 415.7 L479 414.16 L479.5 415.49 L480 415.72 L480.5 414.94 L481 415.31 L481.5 414.78 L482 414.81 L482.5 414.75 L483 415.27 L483.5 415.08 L484 413.74 L484.5 412.9 L485 413.13 L485.5 413.4 L486 411.77 L486.5 411.47 L487 410.63 L487.5 411.32 L488 410.16 L488.5 408.47 L489 407.94 L489.5 407.99 L490 407.75 L490.5 407.4 L491 405.69 L491.5 405.39 L492 406.14 L492.5 405.15 L493 404.57 L493.5 404.39 L494 405.64 L494.5 404.12 L495 404.65 L495.51 404.22 L496.01 404.44 L496.52 405.57 L497.03 406.07 L497.54 404.94 L498.04 404.89 L498.55 406.42 L499.06 405.67 L499.56 405.68 L500.07 408.13 L500.58 407.58 L501.09 408.98 L501.59 408.6 L502.1 410.19 L502.61 409.81 L503.11 409.69 L503.62 409.88 L504.13 411.57 L504.64 412.24 L505.14 413.28 L505.65 411.88 L506.16 413.41 L506.66 413.17 L507.17 413.73 L507.68 413.15 L508.19 413.6 L508.69 414.22 L509.2 415.14 L509.7 413.29 L510.21 413.97 L510.71 414.41 L511.22 414.42 L511.72 412.29 L512.23 411.63 L512.73 412.85 L513.24 412.3 L513.74 410.55 L514.25 408.91 L514.75 410.14 L515.26 408.27 L515.76 408.74 L516.27 407.49 L516.77 407.36 L517.28 405.39 L517.78 406.34 L518.29 404.75 L518.79 404.9 L519.3 405.71 L519.8 404.9" fill="none" stroke="#111" stroke-width="1.5" stroke-linejoin="round" stroke-linecap="round" />
<path d="M452.6 273 H456 V282.7 H457.85 L454.3 295.3 L450.75 282.7 H452.6 Z" fill="url(#ag)" stroke="#2a2a2a" stroke-width="1.1" stroke-linejoin="miter"/>
<path d="M422.7 337.3 H426.1 V346.4 H427.95 L424.4 359 L420.85 346.4 H422.7 Z" fill="url(#ag)" stroke="#2a2a2a" stroke-width="1.1" stroke-linejoin="miter"/>
<path d="M412.9 389.9 H416.3 V397.1 H418.15 L414.6 409.7 L411.05 397.1 H412.9 Z" fill="url(#ag)" stroke="#2a2a2a" stroke-width="1.1" stroke-linejoin="miter"/>
</svg></body></html>
